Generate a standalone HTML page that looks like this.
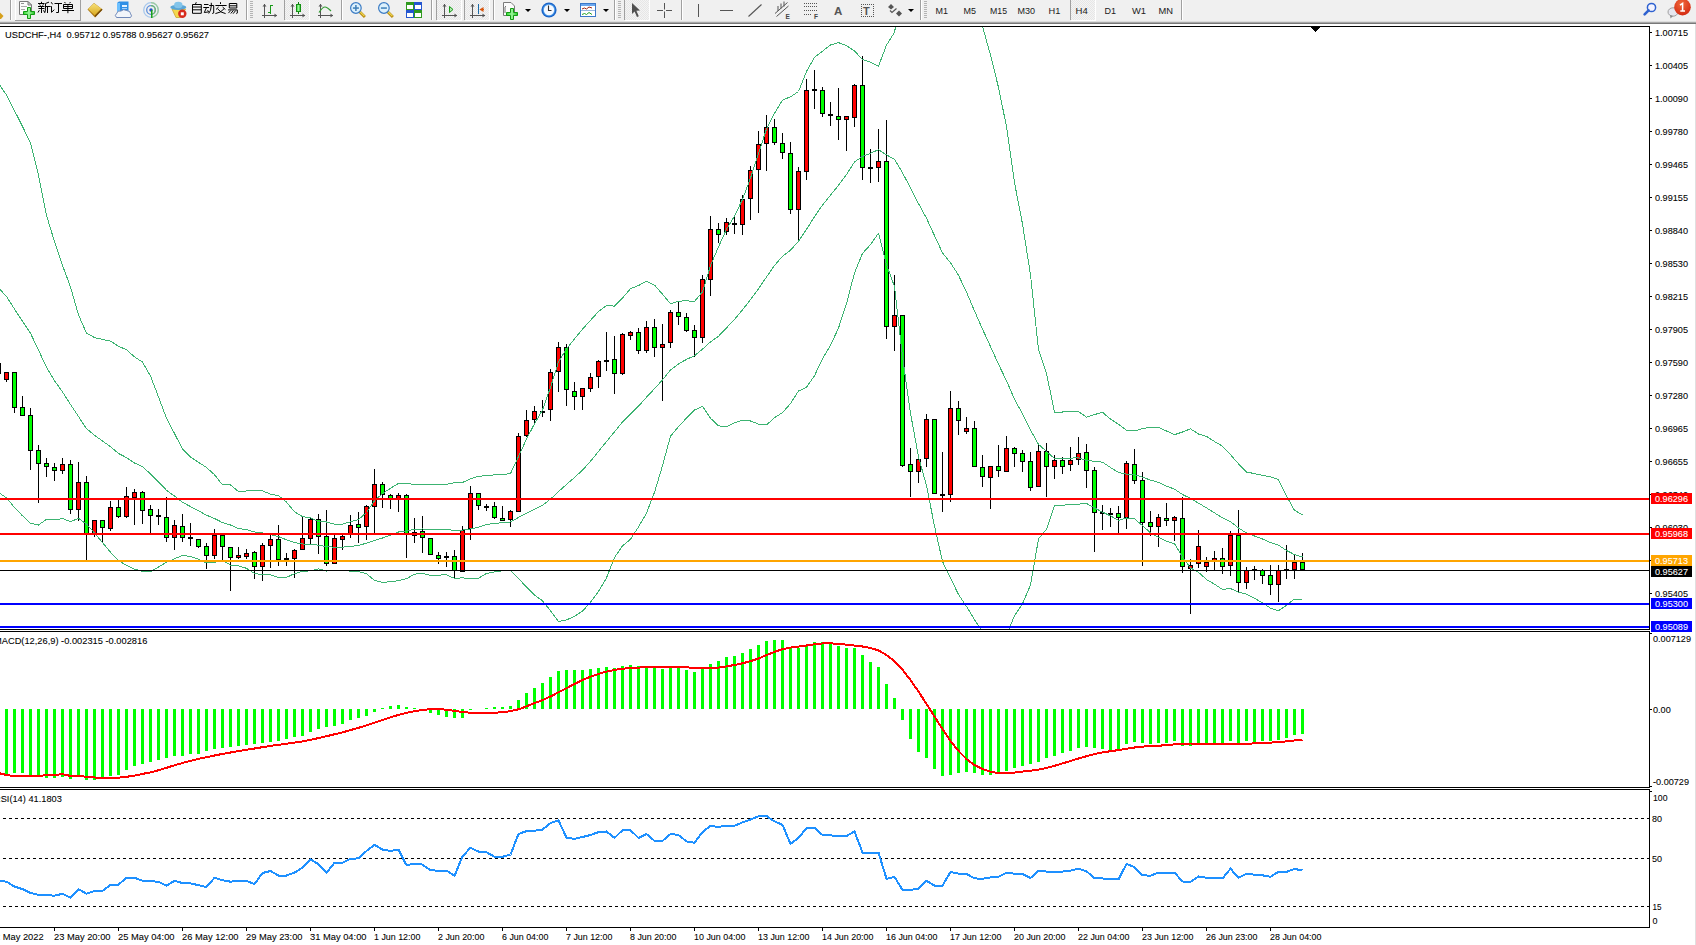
<!DOCTYPE html>
<html><head><meta charset="utf-8"><title>MT4 USDCHF H4</title>
<style>svg text{font-family:"Liberation Sans",sans-serif} html,body{margin:0;padding:0;width:1696px;height:945px;overflow:hidden;background:#fff;position:relative}</style>
</head><body>
<svg width="1696" height="945" viewBox="0 0 1696 945" style="position:absolute;left:0;top:0"><rect x="0" y="0" width="1696" height="945" fill="#ffffff"/><rect x="0" y="0" width="1696" height="21" fill="#f0f0f0"/><rect x="0" y="21" width="1696" height="1" fill="#dedede"/><rect x="0" y="22" width="1696" height="1" fill="#a8a8a8"/><rect x="0" y="23" width="1696" height="1" fill="#787878"/><rect x="1695" y="24" width="1" height="921" fill="#e0e0e0"/><defs><clipPath id="cm"><rect x="0" y="27" width="1649" height="602"/></clipPath><clipPath id="cmacd"><rect x="0" y="632" width="1649" height="155"/></clipPath><clipPath id="crsi"><rect x="0" y="790" width="1649" height="137"/></clipPath></defs><g clip-path="url(#cm)" shape-rendering="crispEdges"><rect x="-2" y="360" width="1" height="17" fill="#000"/><rect x="-4" y="363" width="5" height="11" fill="#000"/><rect x="-3" y="364" width="3" height="9" fill="#00ff00"/><rect x="6" y="372" width="1" height="10" fill="#000"/><rect x="4" y="372" width="5" height="8" fill="#000"/><rect x="5" y="373" width="3" height="6" fill="#ff0000"/><rect x="14" y="372" width="1" height="41" fill="#000"/><rect x="12" y="372" width="5" height="36" fill="#000"/><rect x="13" y="373" width="3" height="34" fill="#00ff00"/><rect x="22" y="396" width="1" height="20" fill="#000"/><rect x="20" y="407" width="5" height="9" fill="#000"/><rect x="21" y="408" width="3" height="7" fill="#00ff00"/><rect x="30" y="408" width="1" height="62" fill="#000"/><rect x="28" y="415" width="5" height="36" fill="#000"/><rect x="29" y="416" width="3" height="34" fill="#00ff00"/><rect x="38" y="445" width="1" height="58" fill="#000"/><rect x="36" y="450" width="5" height="14" fill="#000"/><rect x="37" y="451" width="3" height="12" fill="#00ff00"/><rect x="46" y="458" width="1" height="19" fill="#000"/><rect x="44" y="463" width="5" height="4" fill="#000"/><rect x="45" y="464" width="3" height="2" fill="#00ff00"/><rect x="54" y="463" width="1" height="18" fill="#000"/><rect x="52" y="467" width="5" height="4" fill="#000"/><rect x="53" y="468" width="3" height="2" fill="#00ff00"/><rect x="62" y="458" width="1" height="16" fill="#000"/><rect x="60" y="464" width="5" height="7" fill="#000"/><rect x="61" y="465" width="3" height="5" fill="#ff0000"/><rect x="70" y="460" width="1" height="54" fill="#000"/><rect x="68" y="464" width="5" height="46" fill="#000"/><rect x="69" y="465" width="3" height="44" fill="#00ff00"/><rect x="78" y="462" width="1" height="59" fill="#000"/><rect x="76" y="482" width="5" height="28" fill="#000"/><rect x="77" y="483" width="3" height="26" fill="#ff0000"/><rect x="86" y="476" width="1" height="85" fill="#000"/><rect x="84" y="482" width="5" height="52" fill="#000"/><rect x="85" y="483" width="3" height="50" fill="#00ff00"/><rect x="94" y="520" width="1" height="17" fill="#000"/><rect x="92" y="520" width="5" height="14" fill="#000"/><rect x="93" y="521" width="3" height="12" fill="#ff0000"/><rect x="102" y="520" width="1" height="23" fill="#000"/><rect x="100" y="520" width="5" height="8" fill="#000"/><rect x="101" y="521" width="3" height="6" fill="#00ff00"/><rect x="110" y="501" width="1" height="30" fill="#000"/><rect x="108" y="507" width="5" height="22" fill="#000"/><rect x="109" y="508" width="3" height="20" fill="#ff0000"/><rect x="118" y="500" width="1" height="18" fill="#000"/><rect x="116" y="507" width="5" height="10" fill="#000"/><rect x="117" y="508" width="3" height="8" fill="#00ff00"/><rect x="126" y="487" width="1" height="31" fill="#000"/><rect x="124" y="496" width="5" height="21" fill="#000"/><rect x="125" y="497" width="3" height="19" fill="#ff0000"/><rect x="134" y="489" width="1" height="36" fill="#000"/><rect x="132" y="492" width="5" height="6" fill="#000"/><rect x="133" y="493" width="3" height="4" fill="#ff0000"/><rect x="142" y="491" width="1" height="33" fill="#000"/><rect x="140" y="492" width="5" height="19" fill="#000"/><rect x="141" y="493" width="3" height="17" fill="#00ff00"/><rect x="150" y="505" width="1" height="28" fill="#000"/><rect x="148" y="509" width="5" height="7" fill="#000"/><rect x="149" y="510" width="3" height="5" fill="#00ff00"/><rect x="158" y="509" width="1" height="16" fill="#000"/><rect x="156" y="515" width="5" height="2" fill="#000"/><rect x="166" y="497" width="1" height="45" fill="#000"/><rect x="164" y="517" width="5" height="21" fill="#000"/><rect x="165" y="518" width="3" height="19" fill="#00ff00"/><rect x="174" y="520" width="1" height="30" fill="#000"/><rect x="172" y="525" width="5" height="13" fill="#000"/><rect x="173" y="526" width="3" height="11" fill="#ff0000"/><rect x="182" y="514" width="1" height="28" fill="#000"/><rect x="180" y="526" width="5" height="12" fill="#000"/><rect x="181" y="527" width="3" height="10" fill="#00ff00"/><rect x="190" y="523" width="1" height="23" fill="#000"/><rect x="188" y="537" width="5" height="2" fill="#000"/><rect x="198" y="539" width="1" height="9" fill="#000"/><rect x="196" y="539" width="5" height="8" fill="#000"/><rect x="197" y="540" width="3" height="6" fill="#00ff00"/><rect x="206" y="543" width="1" height="26" fill="#000"/><rect x="204" y="546" width="5" height="10" fill="#000"/><rect x="205" y="547" width="3" height="8" fill="#00ff00"/><rect x="214" y="529" width="1" height="30" fill="#000"/><rect x="212" y="535" width="5" height="21" fill="#000"/><rect x="213" y="536" width="3" height="19" fill="#ff0000"/><rect x="222" y="535" width="1" height="25" fill="#000"/><rect x="220" y="535" width="5" height="12" fill="#000"/><rect x="221" y="536" width="3" height="10" fill="#00ff00"/><rect x="230" y="547" width="1" height="44" fill="#000"/><rect x="228" y="547" width="5" height="11" fill="#000"/><rect x="229" y="548" width="3" height="9" fill="#00ff00"/><rect x="238" y="547" width="1" height="12" fill="#000"/><rect x="236" y="555" width="5" height="3" fill="#000"/><rect x="237" y="556" width="3" height="1" fill="#ff0000"/><rect x="246" y="549" width="1" height="10" fill="#000"/><rect x="244" y="553" width="5" height="4" fill="#000"/><rect x="245" y="554" width="3" height="2" fill="#ff0000"/><rect x="254" y="551" width="1" height="28" fill="#000"/><rect x="252" y="552" width="5" height="15" fill="#000"/><rect x="253" y="553" width="3" height="13" fill="#00ff00"/><rect x="262" y="543" width="1" height="38" fill="#000"/><rect x="260" y="545" width="5" height="22" fill="#000"/><rect x="261" y="546" width="3" height="20" fill="#ff0000"/><rect x="270" y="535" width="1" height="33" fill="#000"/><rect x="268" y="539" width="5" height="7" fill="#000"/><rect x="269" y="540" width="3" height="5" fill="#ff0000"/><rect x="278" y="525" width="1" height="41" fill="#000"/><rect x="276" y="539" width="5" height="21" fill="#000"/><rect x="277" y="540" width="3" height="19" fill="#00ff00"/><rect x="286" y="553" width="1" height="13" fill="#000"/><rect x="284" y="558" width="5" height="2" fill="#000"/><rect x="294" y="549" width="1" height="29" fill="#000"/><rect x="292" y="550" width="5" height="9" fill="#000"/><rect x="293" y="551" width="3" height="7" fill="#ff0000"/><rect x="302" y="517" width="1" height="33" fill="#000"/><rect x="300" y="538" width="5" height="12" fill="#000"/><rect x="301" y="539" width="3" height="10" fill="#ff0000"/><rect x="310" y="518" width="1" height="26" fill="#000"/><rect x="308" y="519" width="5" height="20" fill="#000"/><rect x="309" y="520" width="3" height="18" fill="#ff0000"/><rect x="318" y="514" width="1" height="40" fill="#000"/><rect x="316" y="519" width="5" height="18" fill="#000"/><rect x="317" y="520" width="3" height="16" fill="#00ff00"/><rect x="326" y="510" width="1" height="56" fill="#000"/><rect x="324" y="536" width="5" height="28" fill="#000"/><rect x="325" y="537" width="3" height="26" fill="#00ff00"/><rect x="334" y="535" width="1" height="29" fill="#000"/><rect x="332" y="538" width="5" height="26" fill="#000"/><rect x="333" y="539" width="3" height="24" fill="#ff0000"/><rect x="342" y="535" width="1" height="15" fill="#000"/><rect x="340" y="536" width="5" height="4" fill="#000"/><rect x="341" y="537" width="3" height="2" fill="#ff0000"/><rect x="350" y="515" width="1" height="23" fill="#000"/><rect x="348" y="525" width="5" height="10" fill="#000"/><rect x="349" y="526" width="3" height="8" fill="#ff0000"/><rect x="358" y="512" width="1" height="31" fill="#000"/><rect x="356" y="524" width="5" height="4" fill="#000"/><rect x="357" y="525" width="3" height="2" fill="#00ff00"/><rect x="366" y="505" width="1" height="35" fill="#000"/><rect x="364" y="506" width="5" height="21" fill="#000"/><rect x="365" y="507" width="3" height="19" fill="#ff0000"/><rect x="374" y="469" width="1" height="66" fill="#000"/><rect x="372" y="484" width="5" height="23" fill="#000"/><rect x="373" y="485" width="3" height="21" fill="#ff0000"/><rect x="382" y="482" width="1" height="26" fill="#000"/><rect x="380" y="484" width="5" height="11" fill="#000"/><rect x="381" y="485" width="3" height="9" fill="#00ff00"/><rect x="390" y="494" width="1" height="15" fill="#000"/><rect x="388" y="495" width="5" height="4" fill="#000"/><rect x="389" y="496" width="3" height="2" fill="#00ff00"/><rect x="398" y="493" width="1" height="19" fill="#000"/><rect x="396" y="495" width="5" height="4" fill="#000"/><rect x="397" y="496" width="3" height="2" fill="#ff0000"/><rect x="406" y="494" width="1" height="64" fill="#000"/><rect x="404" y="495" width="5" height="40" fill="#000"/><rect x="405" y="496" width="3" height="38" fill="#00ff00"/><rect x="414" y="518" width="1" height="25" fill="#000"/><rect x="412" y="532" width="5" height="4" fill="#000"/><rect x="413" y="533" width="3" height="2" fill="#ff0000"/><rect x="422" y="516" width="1" height="37" fill="#000"/><rect x="420" y="531" width="5" height="7" fill="#000"/><rect x="421" y="532" width="3" height="5" fill="#00ff00"/><rect x="430" y="538" width="1" height="17" fill="#000"/><rect x="428" y="538" width="5" height="17" fill="#000"/><rect x="429" y="539" width="3" height="15" fill="#00ff00"/><rect x="438" y="552" width="1" height="12" fill="#000"/><rect x="436" y="555" width="5" height="4" fill="#000"/><rect x="437" y="556" width="3" height="2" fill="#00ff00"/><rect x="446" y="552" width="1" height="15" fill="#000"/><rect x="444" y="556" width="5" height="2" fill="#000"/><rect x="454" y="550" width="1" height="28" fill="#000"/><rect x="452" y="556" width="5" height="15" fill="#000"/><rect x="453" y="557" width="3" height="13" fill="#00ff00"/><rect x="462" y="526" width="1" height="46" fill="#000"/><rect x="460" y="530" width="5" height="42" fill="#000"/><rect x="461" y="531" width="3" height="40" fill="#ff0000"/><rect x="470" y="486" width="1" height="54" fill="#000"/><rect x="468" y="493" width="5" height="36" fill="#000"/><rect x="469" y="494" width="3" height="34" fill="#ff0000"/><rect x="478" y="493" width="1" height="17" fill="#000"/><rect x="476" y="493" width="5" height="13" fill="#000"/><rect x="477" y="494" width="3" height="11" fill="#00ff00"/><rect x="486" y="504" width="1" height="7" fill="#000"/><rect x="484" y="506" width="5" height="2" fill="#000"/><rect x="494" y="502" width="1" height="17" fill="#000"/><rect x="492" y="506" width="5" height="12" fill="#000"/><rect x="493" y="507" width="3" height="10" fill="#00ff00"/><rect x="502" y="506" width="1" height="15" fill="#000"/><rect x="500" y="518" width="5" height="3" fill="#000"/><rect x="501" y="519" width="3" height="1" fill="#00ff00"/><rect x="510" y="510" width="1" height="17" fill="#000"/><rect x="508" y="511" width="5" height="9" fill="#000"/><rect x="509" y="512" width="3" height="7" fill="#ff0000"/><rect x="518" y="433" width="1" height="79" fill="#000"/><rect x="516" y="436" width="5" height="76" fill="#000"/><rect x="517" y="437" width="3" height="74" fill="#ff0000"/><rect x="526" y="410" width="1" height="27" fill="#000"/><rect x="524" y="420" width="5" height="16" fill="#000"/><rect x="525" y="421" width="3" height="14" fill="#ff0000"/><rect x="534" y="406" width="1" height="18" fill="#000"/><rect x="532" y="411" width="5" height="9" fill="#000"/><rect x="533" y="412" width="3" height="7" fill="#ff0000"/><rect x="542" y="400" width="1" height="17" fill="#000"/><rect x="540" y="411" width="5" height="2" fill="#000"/><rect x="550" y="369" width="1" height="52" fill="#000"/><rect x="548" y="372" width="5" height="38" fill="#000"/><rect x="549" y="373" width="3" height="36" fill="#ff0000"/><rect x="558" y="342" width="1" height="50" fill="#000"/><rect x="556" y="347" width="5" height="25" fill="#000"/><rect x="557" y="348" width="3" height="23" fill="#ff0000"/><rect x="566" y="344" width="1" height="62" fill="#000"/><rect x="564" y="347" width="5" height="43" fill="#000"/><rect x="565" y="348" width="3" height="41" fill="#00ff00"/><rect x="574" y="382" width="1" height="28" fill="#000"/><rect x="572" y="391" width="5" height="6" fill="#000"/><rect x="573" y="392" width="3" height="4" fill="#00ff00"/><rect x="582" y="388" width="1" height="22" fill="#000"/><rect x="580" y="388" width="5" height="9" fill="#000"/><rect x="581" y="389" width="3" height="7" fill="#ff0000"/><rect x="590" y="373" width="1" height="19" fill="#000"/><rect x="588" y="377" width="5" height="12" fill="#000"/><rect x="589" y="378" width="3" height="10" fill="#ff0000"/><rect x="598" y="360" width="1" height="28" fill="#000"/><rect x="596" y="361" width="5" height="16" fill="#000"/><rect x="597" y="362" width="3" height="14" fill="#ff0000"/><rect x="606" y="332" width="1" height="39" fill="#000"/><rect x="604" y="360" width="5" height="2" fill="#000"/><rect x="614" y="336" width="1" height="58" fill="#000"/><rect x="612" y="359" width="5" height="15" fill="#000"/><rect x="613" y="360" width="3" height="13" fill="#00ff00"/><rect x="622" y="333" width="1" height="42" fill="#000"/><rect x="620" y="334" width="5" height="40" fill="#000"/><rect x="621" y="335" width="3" height="38" fill="#ff0000"/><rect x="630" y="331" width="1" height="9" fill="#000"/><rect x="628" y="332" width="5" height="4" fill="#000"/><rect x="629" y="333" width="3" height="2" fill="#ff0000"/><rect x="638" y="328" width="1" height="26" fill="#000"/><rect x="636" y="332" width="5" height="19" fill="#000"/><rect x="637" y="333" width="3" height="17" fill="#00ff00"/><rect x="646" y="321" width="1" height="32" fill="#000"/><rect x="644" y="327" width="5" height="24" fill="#000"/><rect x="645" y="328" width="3" height="22" fill="#ff0000"/><rect x="654" y="319" width="1" height="38" fill="#000"/><rect x="652" y="327" width="5" height="21" fill="#000"/><rect x="653" y="328" width="3" height="19" fill="#00ff00"/><rect x="662" y="324" width="1" height="77" fill="#000"/><rect x="660" y="344" width="5" height="4" fill="#000"/><rect x="661" y="345" width="3" height="2" fill="#ff0000"/><rect x="670" y="310" width="1" height="38" fill="#000"/><rect x="668" y="312" width="5" height="31" fill="#000"/><rect x="669" y="313" width="3" height="29" fill="#ff0000"/><rect x="678" y="302" width="1" height="23" fill="#000"/><rect x="676" y="312" width="5" height="5" fill="#000"/><rect x="677" y="313" width="3" height="3" fill="#00ff00"/><rect x="686" y="313" width="1" height="19" fill="#000"/><rect x="684" y="317" width="5" height="14" fill="#000"/><rect x="685" y="318" width="3" height="12" fill="#00ff00"/><rect x="694" y="325" width="1" height="32" fill="#000"/><rect x="692" y="330" width="5" height="8" fill="#000"/><rect x="693" y="331" width="3" height="6" fill="#00ff00"/><rect x="702" y="275" width="1" height="68" fill="#000"/><rect x="700" y="279" width="5" height="59" fill="#000"/><rect x="701" y="280" width="3" height="57" fill="#ff0000"/><rect x="710" y="216" width="1" height="80" fill="#000"/><rect x="708" y="229" width="5" height="51" fill="#000"/><rect x="709" y="230" width="3" height="49" fill="#ff0000"/><rect x="718" y="223" width="1" height="20" fill="#000"/><rect x="716" y="229" width="5" height="6" fill="#000"/><rect x="717" y="230" width="3" height="4" fill="#00ff00"/><rect x="726" y="218" width="1" height="17" fill="#000"/><rect x="724" y="222" width="5" height="10" fill="#000"/><rect x="725" y="223" width="3" height="8" fill="#ff0000"/><rect x="734" y="217" width="1" height="17" fill="#000"/><rect x="732" y="223" width="5" height="2" fill="#000"/><rect x="742" y="195" width="1" height="40" fill="#000"/><rect x="740" y="199" width="5" height="26" fill="#000"/><rect x="741" y="200" width="3" height="24" fill="#ff0000"/><rect x="750" y="166" width="1" height="54" fill="#000"/><rect x="748" y="170" width="5" height="29" fill="#000"/><rect x="749" y="171" width="3" height="27" fill="#ff0000"/><rect x="758" y="131" width="1" height="82" fill="#000"/><rect x="756" y="144" width="5" height="26" fill="#000"/><rect x="757" y="145" width="3" height="24" fill="#ff0000"/><rect x="766" y="115" width="1" height="56" fill="#000"/><rect x="764" y="127" width="5" height="17" fill="#000"/><rect x="765" y="128" width="3" height="15" fill="#ff0000"/><rect x="774" y="119" width="1" height="26" fill="#000"/><rect x="772" y="127" width="5" height="16" fill="#000"/><rect x="773" y="128" width="3" height="14" fill="#00ff00"/><rect x="782" y="133" width="1" height="26" fill="#000"/><rect x="780" y="143" width="5" height="10" fill="#000"/><rect x="781" y="144" width="3" height="8" fill="#00ff00"/><rect x="790" y="142" width="1" height="72" fill="#000"/><rect x="788" y="153" width="5" height="57" fill="#000"/><rect x="789" y="154" width="3" height="55" fill="#00ff00"/><rect x="798" y="167" width="1" height="75" fill="#000"/><rect x="796" y="171" width="5" height="39" fill="#000"/><rect x="797" y="172" width="3" height="37" fill="#ff0000"/><rect x="806" y="79" width="1" height="101" fill="#000"/><rect x="804" y="90" width="5" height="82" fill="#000"/><rect x="805" y="91" width="3" height="80" fill="#ff0000"/><rect x="814" y="70" width="1" height="39" fill="#000"/><rect x="812" y="89" width="5" height="2" fill="#000"/><rect x="822" y="87" width="1" height="30" fill="#000"/><rect x="820" y="90" width="5" height="24" fill="#000"/><rect x="821" y="91" width="3" height="22" fill="#00ff00"/><rect x="830" y="102" width="1" height="24" fill="#000"/><rect x="828" y="114" width="5" height="2" fill="#000"/><rect x="838" y="88" width="1" height="52" fill="#000"/><rect x="836" y="116" width="5" height="4" fill="#000"/><rect x="837" y="117" width="3" height="2" fill="#00ff00"/><rect x="846" y="116" width="1" height="35" fill="#000"/><rect x="844" y="116" width="5" height="4" fill="#000"/><rect x="845" y="117" width="3" height="2" fill="#ff0000"/><rect x="854" y="84" width="1" height="43" fill="#000"/><rect x="852" y="85" width="5" height="33" fill="#000"/><rect x="853" y="86" width="3" height="31" fill="#ff0000"/><rect x="862" y="56" width="1" height="124" fill="#000"/><rect x="860" y="85" width="5" height="83" fill="#000"/><rect x="861" y="86" width="3" height="81" fill="#00ff00"/><rect x="870" y="149" width="1" height="34" fill="#000"/><rect x="868" y="167" width="5" height="2" fill="#000"/><rect x="878" y="129" width="1" height="53" fill="#000"/><rect x="876" y="161" width="5" height="7" fill="#000"/><rect x="877" y="162" width="3" height="5" fill="#ff0000"/><rect x="886" y="120" width="1" height="219" fill="#000"/><rect x="884" y="161" width="5" height="166" fill="#000"/><rect x="885" y="162" width="3" height="164" fill="#00ff00"/><rect x="894" y="275" width="1" height="76" fill="#000"/><rect x="892" y="315" width="5" height="12" fill="#000"/><rect x="893" y="316" width="3" height="10" fill="#ff0000"/><rect x="902" y="315" width="1" height="152" fill="#000"/><rect x="900" y="315" width="5" height="151" fill="#000"/><rect x="901" y="316" width="3" height="149" fill="#00ff00"/><rect x="910" y="448" width="1" height="49" fill="#000"/><rect x="908" y="464" width="5" height="8" fill="#000"/><rect x="909" y="465" width="3" height="6" fill="#00ff00"/><rect x="918" y="454" width="1" height="29" fill="#000"/><rect x="916" y="459" width="5" height="13" fill="#000"/><rect x="917" y="460" width="3" height="11" fill="#ff0000"/><rect x="926" y="414" width="1" height="53" fill="#000"/><rect x="924" y="419" width="5" height="40" fill="#000"/><rect x="925" y="420" width="3" height="38" fill="#ff0000"/><rect x="934" y="419" width="1" height="75" fill="#000"/><rect x="932" y="419" width="5" height="75" fill="#000"/><rect x="933" y="420" width="3" height="73" fill="#00ff00"/><rect x="942" y="452" width="1" height="60" fill="#000"/><rect x="940" y="494" width="5" height="2" fill="#000"/><rect x="950" y="391" width="1" height="111" fill="#000"/><rect x="948" y="408" width="5" height="87" fill="#000"/><rect x="949" y="409" width="3" height="85" fill="#ff0000"/><rect x="958" y="401" width="1" height="34" fill="#000"/><rect x="956" y="408" width="5" height="13" fill="#000"/><rect x="957" y="409" width="3" height="11" fill="#00ff00"/><rect x="966" y="417" width="1" height="17" fill="#000"/><rect x="964" y="428" width="5" height="4" fill="#000"/><rect x="965" y="429" width="3" height="2" fill="#ff0000"/><rect x="974" y="421" width="1" height="46" fill="#000"/><rect x="972" y="428" width="5" height="39" fill="#000"/><rect x="973" y="429" width="3" height="37" fill="#00ff00"/><rect x="982" y="455" width="1" height="32" fill="#000"/><rect x="980" y="467" width="5" height="10" fill="#000"/><rect x="981" y="468" width="3" height="8" fill="#00ff00"/><rect x="990" y="466" width="1" height="43" fill="#000"/><rect x="988" y="466" width="5" height="12" fill="#000"/><rect x="989" y="467" width="3" height="10" fill="#ff0000"/><rect x="998" y="445" width="1" height="32" fill="#000"/><rect x="996" y="466" width="5" height="5" fill="#000"/><rect x="997" y="467" width="3" height="3" fill="#00ff00"/><rect x="1006" y="436" width="1" height="36" fill="#000"/><rect x="1004" y="448" width="5" height="24" fill="#000"/><rect x="1005" y="449" width="3" height="22" fill="#ff0000"/><rect x="1014" y="447" width="1" height="20" fill="#000"/><rect x="1012" y="448" width="5" height="6" fill="#000"/><rect x="1013" y="449" width="3" height="4" fill="#00ff00"/><rect x="1022" y="450" width="1" height="22" fill="#000"/><rect x="1020" y="453" width="5" height="9" fill="#000"/><rect x="1021" y="454" width="3" height="7" fill="#00ff00"/><rect x="1030" y="452" width="1" height="39" fill="#000"/><rect x="1028" y="461" width="5" height="27" fill="#000"/><rect x="1029" y="462" width="3" height="25" fill="#00ff00"/><rect x="1038" y="445" width="1" height="42" fill="#000"/><rect x="1036" y="451" width="5" height="36" fill="#000"/><rect x="1037" y="452" width="3" height="34" fill="#ff0000"/><rect x="1046" y="443" width="1" height="54" fill="#000"/><rect x="1044" y="451" width="5" height="16" fill="#000"/><rect x="1045" y="452" width="3" height="14" fill="#00ff00"/><rect x="1054" y="455" width="1" height="24" fill="#000"/><rect x="1052" y="460" width="5" height="7" fill="#000"/><rect x="1053" y="461" width="3" height="5" fill="#ff0000"/><rect x="1062" y="457" width="1" height="17" fill="#000"/><rect x="1060" y="460" width="5" height="7" fill="#000"/><rect x="1061" y="461" width="3" height="5" fill="#00ff00"/><rect x="1070" y="447" width="1" height="24" fill="#000"/><rect x="1068" y="460" width="5" height="5" fill="#000"/><rect x="1069" y="461" width="3" height="3" fill="#ff0000"/><rect x="1078" y="437" width="1" height="28" fill="#000"/><rect x="1076" y="453" width="5" height="7" fill="#000"/><rect x="1077" y="454" width="3" height="5" fill="#ff0000"/><rect x="1086" y="444" width="1" height="44" fill="#000"/><rect x="1084" y="452" width="5" height="19" fill="#000"/><rect x="1085" y="453" width="3" height="17" fill="#00ff00"/><rect x="1094" y="467" width="1" height="85" fill="#000"/><rect x="1092" y="470" width="5" height="43" fill="#000"/><rect x="1093" y="471" width="3" height="41" fill="#00ff00"/><rect x="1102" y="505" width="1" height="25" fill="#000"/><rect x="1100" y="512" width="5" height="2" fill="#000"/><rect x="1110" y="508" width="1" height="19" fill="#000"/><rect x="1108" y="513" width="5" height="2" fill="#000"/><rect x="1118" y="506" width="1" height="27" fill="#000"/><rect x="1116" y="513" width="5" height="5" fill="#000"/><rect x="1117" y="514" width="3" height="3" fill="#00ff00"/><rect x="1126" y="461" width="1" height="68" fill="#000"/><rect x="1124" y="463" width="5" height="55" fill="#000"/><rect x="1125" y="464" width="3" height="53" fill="#ff0000"/><rect x="1134" y="449" width="1" height="35" fill="#000"/><rect x="1132" y="464" width="5" height="17" fill="#000"/><rect x="1133" y="465" width="3" height="15" fill="#00ff00"/><rect x="1142" y="472" width="1" height="94" fill="#000"/><rect x="1140" y="480" width="5" height="43" fill="#000"/><rect x="1141" y="481" width="3" height="41" fill="#00ff00"/><rect x="1150" y="511" width="1" height="25" fill="#000"/><rect x="1148" y="522" width="5" height="5" fill="#000"/><rect x="1149" y="523" width="3" height="3" fill="#00ff00"/><rect x="1158" y="514" width="1" height="33" fill="#000"/><rect x="1156" y="517" width="5" height="10" fill="#000"/><rect x="1157" y="518" width="3" height="8" fill="#ff0000"/><rect x="1166" y="503" width="1" height="23" fill="#000"/><rect x="1164" y="518" width="5" height="3" fill="#000"/><rect x="1165" y="519" width="3" height="1" fill="#00ff00"/><rect x="1174" y="516" width="1" height="25" fill="#000"/><rect x="1172" y="517" width="5" height="4" fill="#000"/><rect x="1173" y="518" width="3" height="2" fill="#ff0000"/><rect x="1182" y="497" width="1" height="76" fill="#000"/><rect x="1180" y="518" width="5" height="49" fill="#000"/><rect x="1181" y="519" width="3" height="47" fill="#00ff00"/><rect x="1190" y="559" width="1" height="55" fill="#000"/><rect x="1188" y="565" width="5" height="4" fill="#000"/><rect x="1189" y="566" width="3" height="2" fill="#ff0000"/><rect x="1198" y="530" width="1" height="38" fill="#000"/><rect x="1196" y="546" width="5" height="18" fill="#000"/><rect x="1197" y="547" width="3" height="16" fill="#ff0000"/><rect x="1206" y="557" width="1" height="15" fill="#000"/><rect x="1204" y="562" width="5" height="5" fill="#000"/><rect x="1205" y="563" width="3" height="3" fill="#ff0000"/><rect x="1214" y="551" width="1" height="19" fill="#000"/><rect x="1212" y="558" width="5" height="4" fill="#000"/><rect x="1213" y="559" width="3" height="2" fill="#ff0000"/><rect x="1222" y="548" width="1" height="26" fill="#000"/><rect x="1220" y="558" width="5" height="9" fill="#000"/><rect x="1221" y="559" width="3" height="7" fill="#00ff00"/><rect x="1230" y="531" width="1" height="45" fill="#000"/><rect x="1228" y="535" width="5" height="31" fill="#000"/><rect x="1229" y="536" width="3" height="29" fill="#ff0000"/><rect x="1238" y="510" width="1" height="82" fill="#000"/><rect x="1236" y="535" width="5" height="48" fill="#000"/><rect x="1237" y="536" width="3" height="46" fill="#00ff00"/><rect x="1246" y="567" width="1" height="22" fill="#000"/><rect x="1244" y="570" width="5" height="13" fill="#000"/><rect x="1245" y="571" width="3" height="11" fill="#ff0000"/><rect x="1254" y="566" width="1" height="14" fill="#000"/><rect x="1252" y="569" width="5" height="2" fill="#000"/><rect x="1262" y="569" width="1" height="15" fill="#000"/><rect x="1260" y="570" width="5" height="6" fill="#000"/><rect x="1261" y="571" width="3" height="4" fill="#00ff00"/><rect x="1270" y="565" width="1" height="30" fill="#000"/><rect x="1268" y="575" width="5" height="10" fill="#000"/><rect x="1269" y="576" width="3" height="8" fill="#00ff00"/><rect x="1278" y="565" width="1" height="37" fill="#000"/><rect x="1276" y="570" width="5" height="15" fill="#000"/><rect x="1277" y="571" width="3" height="13" fill="#ff0000"/><rect x="1286" y="545" width="1" height="34" fill="#000"/><rect x="1284" y="569" width="5" height="2" fill="#000"/><rect x="1294" y="555" width="1" height="24" fill="#000"/><rect x="1292" y="562" width="5" height="8" fill="#000"/><rect x="1293" y="563" width="3" height="6" fill="#ff0000"/><rect x="1302" y="553" width="1" height="17" fill="#000"/><rect x="1300" y="562" width="5" height="8" fill="#000"/><rect x="1301" y="563" width="3" height="6" fill="#00ff00"/><polyline points="-1.5,83.5 6.5,94.9 14.5,110.7 22.5,126.4 30.5,143.1 38.5,175.2 46.5,215.4 54.5,241.6 62.5,265.3 70.5,287.0 78.5,314.9 86.5,333.1 94.5,337.6 102.5,339.4 110.5,341.1 118.5,346.3 126.5,349.8 134.5,356.8 142.5,362.1 150.5,376.0 158.5,396.9 166.5,418.2 174.5,433.5 182.5,449.1 190.5,456.9 198.5,462.3 206.5,467.5 214.5,474.7 222.5,484.9 230.5,484.9 238.5,491.5 246.5,491.0 254.5,490.4 262.5,490.9 270.5,494.1 278.5,495.7 286.5,502.1 294.5,511.7 302.5,516.7 310.5,517.7 318.5,521.6 326.5,522.0 334.5,524.2 342.5,524.1 350.5,521.8 358.5,519.5 366.5,512.5 374.5,500.7 382.5,493.5 390.5,488.3 398.5,483.3 406.5,483.4 414.5,484.5 422.5,484.5 430.5,484.1 438.5,484.2 446.5,484.3 454.5,482.7 462.5,482.5 470.5,478.7 478.5,476.3 486.5,475.6 494.5,474.9 502.5,474.5 510.5,473.6 518.5,456.5 526.5,439.0 534.5,423.8 542.5,409.9 550.5,387.4 558.5,361.9 566.5,348.9 574.5,338.9 582.5,329.1 590.5,320.3 598.5,311.5 606.5,305.4 614.5,306.1 622.5,298.1 630.5,288.7 638.5,285.5 646.5,281.3 654.5,285.1 662.5,294.2 670.5,303.7 678.5,301.2 686.5,300.8 694.5,301.5 702.5,291.8 710.5,265.6 718.5,246.8 726.5,229.2 734.5,216.1 742.5,199.4 750.5,178.1 758.5,153.3 766.5,129.0 774.5,113.3 782.5,100.1 790.5,96.8 798.5,91.5 806.5,71.5 814.5,57.4 822.5,51.2 830.5,44.9 838.5,42.6 846.5,45.6 854.5,51.1 862.5,59.4 870.5,62.1 878.5,66.2 886.5,45.1 894.5,32.3 902.5,-11.3 910.5,-37.6 918.5,-49.8 926.5,-49.3 934.5,-54.7 942.5,-55.8 950.5,-52.4 958.5,-44.1 966.5,-22.1 974.5,2.3 982.5,26.4 990.5,55.0 998.5,87.5 1006.5,126.6 1014.5,182.7 1022.5,224.0 1030.5,274.7 1038.5,349.8 1046.5,373.5 1054.5,412.0 1062.5,412.0 1070.5,411.8 1078.5,411.5 1086.5,417.2 1094.5,414.6 1102.5,412.3 1110.5,419.1 1118.5,424.3 1126.5,430.2 1134.5,430.9 1142.5,428.6 1150.5,427.3 1158.5,427.5 1166.5,431.0 1174.5,434.7 1182.5,432.0 1190.5,428.8 1198.5,434.0 1206.5,436.4 1214.5,441.5 1222.5,446.2 1230.5,454.7 1238.5,463.8 1246.5,472.0 1254.5,473.6 1262.5,475.3 1270.5,476.9 1278.5,479.6 1286.5,495.9 1294.5,510.3 1302.5,514.8" fill="none" stroke="#3cb371" stroke-width="1" stroke-linejoin="round"/><polyline points="-1.5,288.0 6.5,296.4 14.5,309.1 22.5,321.1 30.5,333.2 38.5,350.1 46.5,367.3 54.5,380.7 62.5,391.9 70.5,404.4 78.5,416.6 86.5,428.6 94.5,435.3 102.5,441.0 110.5,446.7 118.5,453.5 126.5,457.6 134.5,463.0 142.5,466.8 150.5,473.9 158.5,482.0 166.5,490.2 174.5,496.1 182.5,502.2 190.5,506.6 198.5,510.8 206.5,515.2 214.5,518.5 222.5,522.6 230.5,525.0 238.5,528.6 246.5,529.6 254.5,532.0 262.5,532.9 270.5,534.5 278.5,536.6 286.5,539.8 294.5,542.6 302.5,544.0 310.5,544.2 318.5,545.2 326.5,546.5 334.5,547.2 342.5,547.1 350.5,546.5 358.5,545.5 366.5,543.1 374.5,540.5 382.5,538.0 390.5,535.0 398.5,532.0 406.5,531.0 414.5,529.4 422.5,529.0 430.5,529.7 438.5,529.6 446.5,529.5 454.5,530.5 462.5,530.1 470.5,528.9 478.5,527.3 486.5,524.5 494.5,523.5 502.5,522.6 510.5,522.0 518.5,517.4 526.5,513.1 534.5,509.4 542.5,505.4 550.5,499.1 558.5,491.6 566.5,484.4 574.5,477.6 582.5,470.1 590.5,461.3 598.5,451.4 606.5,441.6 614.5,431.8 622.5,422.0 630.5,413.9 638.5,406.2 646.5,397.2 654.5,388.7 662.5,379.9 670.5,369.9 678.5,363.9 686.5,359.4 694.5,355.8 702.5,349.1 710.5,341.9 718.5,336.3 726.5,327.9 734.5,319.4 742.5,309.9 750.5,299.6 758.5,288.7 766.5,277.0 774.5,265.4 782.5,256.4 790.5,250.2 798.5,241.2 806.5,229.4 814.5,216.6 822.5,205.0 830.5,195.2 838.5,185.3 846.5,174.6 854.5,162.0 862.5,156.4 870.5,153.3 878.5,149.7 886.5,154.9 894.5,159.4 902.5,172.8 910.5,187.8 918.5,203.6 926.5,218.2 934.5,235.7 942.5,252.8 950.5,262.8 958.5,275.2 966.5,292.1 974.5,310.9 982.5,329.1 990.5,346.6 998.5,364.2 1006.5,380.8 1014.5,399.2 1022.5,413.9 1030.5,429.9 1038.5,444.4 1046.5,451.4 1054.5,458.6 1062.5,458.6 1070.5,458.1 1078.5,457.8 1086.5,460.4 1094.5,461.3 1102.5,462.2 1110.5,467.5 1118.5,472.4 1126.5,474.1 1134.5,474.8 1142.5,477.1 1150.5,480.1 1158.5,482.4 1166.5,486.1 1174.5,489.2 1182.5,494.5 1190.5,498.4 1198.5,503.1 1206.5,507.9 1214.5,512.9 1222.5,517.9 1230.5,521.6 1238.5,528.0 1246.5,533.0 1254.5,536.0 1262.5,539.0 1270.5,542.5 1278.5,545.2 1286.5,550.5 1294.5,554.6 1302.5,557.0" fill="none" stroke="#3cb371" stroke-width="1" stroke-linejoin="round"/><polyline points="-1.5,492.5 6.5,497.8 14.5,507.5 22.5,515.8 30.5,523.3 38.5,525.1 46.5,519.2 54.5,519.9 62.5,518.5 70.5,521.7 78.5,518.3 86.5,524.1 94.5,532.9 102.5,542.6 110.5,552.2 118.5,560.6 126.5,565.4 134.5,569.2 142.5,571.4 150.5,571.8 158.5,567.1 166.5,562.3 174.5,558.8 182.5,555.4 190.5,556.4 198.5,559.3 206.5,563.0 214.5,562.3 222.5,560.3 230.5,565.1 238.5,565.8 246.5,568.3 254.5,573.5 262.5,574.8 270.5,574.8 278.5,577.5 286.5,577.4 294.5,573.6 302.5,571.4 310.5,570.8 318.5,568.9 326.5,571.1 334.5,570.2 342.5,570.2 350.5,571.2 358.5,571.6 366.5,573.7 374.5,580.4 382.5,582.4 390.5,581.7 398.5,580.7 406.5,578.7 414.5,574.2 422.5,573.4 430.5,575.3 438.5,575.1 446.5,574.8 454.5,578.4 462.5,577.8 470.5,579.0 478.5,578.3 486.5,573.4 494.5,572.0 502.5,570.8 510.5,570.3 518.5,578.3 526.5,587.2 534.5,595.1 542.5,600.8 550.5,610.7 558.5,621.4 566.5,619.9 574.5,616.3 582.5,611.2 590.5,602.3 598.5,591.4 606.5,577.9 614.5,557.5 622.5,545.9 630.5,539.2 638.5,526.9 646.5,513.1 654.5,492.3 662.5,465.6 670.5,436.2 678.5,426.7 686.5,418.1 694.5,410.0 702.5,406.4 710.5,418.3 718.5,425.8 726.5,426.7 734.5,422.6 742.5,420.4 750.5,421.0 758.5,424.1 766.5,425.0 774.5,417.6 782.5,412.6 790.5,403.6 798.5,391.0 806.5,387.3 814.5,375.7 822.5,358.8 830.5,345.4 838.5,328.0 846.5,303.6 854.5,272.9 862.5,253.4 870.5,244.6 878.5,233.2 886.5,264.7 894.5,286.6 902.5,356.8 910.5,413.2 918.5,456.9 926.5,485.6 934.5,526.1 942.5,561.5 950.5,578.0 958.5,594.6 966.5,606.4 974.5,619.6 982.5,631.8 990.5,638.3 998.5,640.9 1006.5,635.0 1014.5,615.7 1022.5,603.8 1030.5,585.0 1038.5,538.9 1046.5,529.2 1054.5,505.2 1062.5,505.3 1070.5,504.4 1078.5,504.1 1086.5,503.5 1094.5,508.0 1102.5,512.1 1110.5,515.9 1118.5,520.4 1126.5,518.0 1134.5,518.7 1142.5,525.6 1150.5,532.9 1158.5,537.4 1166.5,541.1 1174.5,543.8 1182.5,557.0 1190.5,568.0 1198.5,572.3 1206.5,579.5 1214.5,584.2 1222.5,589.5 1230.5,588.5 1238.5,592.3 1246.5,594.1 1254.5,598.3 1262.5,602.8 1270.5,608.2 1278.5,610.8 1286.5,605.2 1294.5,599.0 1302.5,599.2" fill="none" stroke="#3cb371" stroke-width="1" stroke-linejoin="round"/><rect x="0" y="498" width="1649" height="2" fill="#ff0000"/><rect x="0" y="533" width="1649" height="2" fill="#ff0000"/><rect x="0" y="560" width="1649" height="2" fill="#ffa500"/><rect x="0" y="570" width="1649" height="1" fill="#000000"/><rect x="0" y="603" width="1649" height="2" fill="#0000ff"/><rect x="0" y="626" width="1649" height="2" fill="#0000ff"/><polygon points="1310.5,27 1320.5,27 1315.5,32" fill="#000"/></g><text x="5" y="38" font-size="9.7" fill="#000" stroke="#000" stroke-width="0.08" text-anchor="start" font-weight="normal" textLength="204" lengthAdjust="spacingAndGlyphs" xml:space="preserve">USDCHF-,H4  0.95712 0.95788 0.95627 0.95627</text><rect x="0" y="26" width="1650" height="1" fill="#000"/><rect x="1649" y="26" width="1" height="604" fill="#000"/><rect x="1649" y="631" width="1" height="157" fill="#000"/><rect x="1649" y="789" width="1" height="139" fill="#000"/><rect x="0" y="629" width="1650" height="1" fill="#000"/><rect x="0" y="631" width="1650" height="1" fill="#000"/><rect x="0" y="787" width="1650" height="1" fill="#000"/><rect x="0" y="789" width="1650" height="1" fill="#000"/><rect x="0" y="927" width="1650" height="1" fill="#000"/><g shape-rendering="crispEdges"><rect x="1650" y="32" width="2" height="1" fill="#000"/><rect x="1650" y="65" width="2" height="1" fill="#000"/><rect x="1650" y="98" width="2" height="1" fill="#000"/><rect x="1650" y="131" width="2" height="1" fill="#000"/><rect x="1650" y="164" width="2" height="1" fill="#000"/><rect x="1650" y="197" width="2" height="1" fill="#000"/><rect x="1650" y="230" width="2" height="1" fill="#000"/><rect x="1650" y="263" width="2" height="1" fill="#000"/><rect x="1650" y="296" width="2" height="1" fill="#000"/><rect x="1650" y="329" width="2" height="1" fill="#000"/><rect x="1650" y="362" width="2" height="1" fill="#000"/><rect x="1650" y="395" width="2" height="1" fill="#000"/><rect x="1650" y="428" width="2" height="1" fill="#000"/><rect x="1650" y="461" width="2" height="1" fill="#000"/><rect x="1650" y="494" width="2" height="1" fill="#000"/><rect x="1650" y="527" width="2" height="1" fill="#000"/><rect x="1650" y="560" width="2" height="1" fill="#000"/><rect x="1650" y="593" width="2" height="1" fill="#000"/></g><text x="1655" y="36" font-size="9.7" fill="#000" stroke="#000" stroke-width="0.08" text-anchor="start" font-weight="normal" textLength="33" lengthAdjust="spacingAndGlyphs" xml:space="preserve">1.00715</text><text x="1655" y="69" font-size="9.7" fill="#000" stroke="#000" stroke-width="0.08" text-anchor="start" font-weight="normal" textLength="33" lengthAdjust="spacingAndGlyphs" xml:space="preserve">1.00405</text><text x="1655" y="102" font-size="9.7" fill="#000" stroke="#000" stroke-width="0.08" text-anchor="start" font-weight="normal" textLength="33" lengthAdjust="spacingAndGlyphs" xml:space="preserve">1.00090</text><text x="1655" y="135" font-size="9.7" fill="#000" stroke="#000" stroke-width="0.08" text-anchor="start" font-weight="normal" textLength="33" lengthAdjust="spacingAndGlyphs" xml:space="preserve">0.99780</text><text x="1655" y="168" font-size="9.7" fill="#000" stroke="#000" stroke-width="0.08" text-anchor="start" font-weight="normal" textLength="33" lengthAdjust="spacingAndGlyphs" xml:space="preserve">0.99465</text><text x="1655" y="201" font-size="9.7" fill="#000" stroke="#000" stroke-width="0.08" text-anchor="start" font-weight="normal" textLength="33" lengthAdjust="spacingAndGlyphs" xml:space="preserve">0.99155</text><text x="1655" y="234" font-size="9.7" fill="#000" stroke="#000" stroke-width="0.08" text-anchor="start" font-weight="normal" textLength="33" lengthAdjust="spacingAndGlyphs" xml:space="preserve">0.98840</text><text x="1655" y="267" font-size="9.7" fill="#000" stroke="#000" stroke-width="0.08" text-anchor="start" font-weight="normal" textLength="33" lengthAdjust="spacingAndGlyphs" xml:space="preserve">0.98530</text><text x="1655" y="300" font-size="9.7" fill="#000" stroke="#000" stroke-width="0.08" text-anchor="start" font-weight="normal" textLength="33" lengthAdjust="spacingAndGlyphs" xml:space="preserve">0.98215</text><text x="1655" y="333" font-size="9.7" fill="#000" stroke="#000" stroke-width="0.08" text-anchor="start" font-weight="normal" textLength="33" lengthAdjust="spacingAndGlyphs" xml:space="preserve">0.97905</text><text x="1655" y="366" font-size="9.7" fill="#000" stroke="#000" stroke-width="0.08" text-anchor="start" font-weight="normal" textLength="33" lengthAdjust="spacingAndGlyphs" xml:space="preserve">0.97590</text><text x="1655" y="399" font-size="9.7" fill="#000" stroke="#000" stroke-width="0.08" text-anchor="start" font-weight="normal" textLength="33" lengthAdjust="spacingAndGlyphs" xml:space="preserve">0.97280</text><text x="1655" y="432" font-size="9.7" fill="#000" stroke="#000" stroke-width="0.08" text-anchor="start" font-weight="normal" textLength="33" lengthAdjust="spacingAndGlyphs" xml:space="preserve">0.96965</text><text x="1655" y="465" font-size="9.7" fill="#000" stroke="#000" stroke-width="0.08" text-anchor="start" font-weight="normal" textLength="33" lengthAdjust="spacingAndGlyphs" xml:space="preserve">0.96655</text><text x="1655" y="498" font-size="9.7" fill="#000" stroke="#000" stroke-width="0.08" text-anchor="start" font-weight="normal" textLength="33" lengthAdjust="spacingAndGlyphs" xml:space="preserve">0.96340</text><text x="1655" y="531" font-size="9.7" fill="#000" stroke="#000" stroke-width="0.08" text-anchor="start" font-weight="normal" textLength="33" lengthAdjust="spacingAndGlyphs" xml:space="preserve">0.96030</text><text x="1655" y="564" font-size="9.7" fill="#000" stroke="#000" stroke-width="0.08" text-anchor="start" font-weight="normal" textLength="33" lengthAdjust="spacingAndGlyphs" xml:space="preserve">0.95715</text><text x="1655" y="597" font-size="9.7" fill="#000" stroke="#000" stroke-width="0.08" text-anchor="start" font-weight="normal" textLength="33" lengthAdjust="spacingAndGlyphs" xml:space="preserve">0.95405</text><rect x="1651" y="493" width="41" height="11" fill="#ff0000"/><text x="1655" y="501.6" font-size="9.7" fill="#fff" stroke="#fff" stroke-width="0.08" text-anchor="start" font-weight="normal" textLength="33" lengthAdjust="spacingAndGlyphs" xml:space="preserve">0.96296</text><rect x="1651" y="528" width="41" height="11" fill="#ff0000"/><text x="1655" y="536.6" font-size="9.7" fill="#fff" stroke="#fff" stroke-width="0.08" text-anchor="start" font-weight="normal" textLength="33" lengthAdjust="spacingAndGlyphs" xml:space="preserve">0.95968</text><rect x="1651" y="555" width="41" height="11" fill="#ffa500"/><text x="1655" y="563.6" font-size="9.7" fill="#fff" stroke="#fff" stroke-width="0.08" text-anchor="start" font-weight="normal" textLength="33" lengthAdjust="spacingAndGlyphs" xml:space="preserve">0.95713</text><rect x="1651" y="566" width="41" height="11" fill="#000000"/><text x="1655" y="574.6" font-size="9.7" fill="#fff" stroke="#fff" stroke-width="0.08" text-anchor="start" font-weight="normal" textLength="33" lengthAdjust="spacingAndGlyphs" xml:space="preserve">0.95627</text><rect x="1651" y="598" width="41" height="11" fill="#0000ff"/><text x="1655" y="606.6" font-size="9.7" fill="#fff" stroke="#fff" stroke-width="0.08" text-anchor="start" font-weight="normal" textLength="33" lengthAdjust="spacingAndGlyphs" xml:space="preserve">0.95300</text><rect x="1651" y="621" width="41" height="11" fill="#0000ff"/><text x="1655" y="629.6" font-size="9.7" fill="#fff" stroke="#fff" stroke-width="0.08" text-anchor="start" font-weight="normal" textLength="33" lengthAdjust="spacingAndGlyphs" xml:space="preserve">0.95089</text><g clip-path="url(#cmacd)" shape-rendering="crispEdges"><rect x="5" y="709" width="3" height="66" fill="#00ff00"/><rect x="13" y="709" width="3" height="64" fill="#00ff00"/><rect x="21" y="709" width="3" height="64" fill="#00ff00"/><rect x="29" y="709" width="3" height="66" fill="#00ff00"/><rect x="37" y="709" width="3" height="67" fill="#00ff00"/><rect x="45" y="709" width="3" height="69" fill="#00ff00"/><rect x="53" y="709" width="3" height="69" fill="#00ff00"/><rect x="61" y="709" width="3" height="68" fill="#00ff00"/><rect x="69" y="709" width="3" height="70" fill="#00ff00"/><rect x="77" y="709" width="3" height="67" fill="#00ff00"/><rect x="85" y="709" width="3" height="71" fill="#00ff00"/><rect x="93" y="709" width="3" height="71" fill="#00ff00"/><rect x="101" y="709" width="3" height="70" fill="#00ff00"/><rect x="109" y="709" width="3" height="67" fill="#00ff00"/><rect x="117" y="709" width="3" height="66" fill="#00ff00"/><rect x="125" y="709" width="3" height="61" fill="#00ff00"/><rect x="133" y="709" width="3" height="57" fill="#00ff00"/><rect x="141" y="709" width="3" height="55" fill="#00ff00"/><rect x="149" y="709" width="3" height="53" fill="#00ff00"/><rect x="157" y="709" width="3" height="51" fill="#00ff00"/><rect x="165" y="709" width="3" height="49" fill="#00ff00"/><rect x="173" y="709" width="3" height="47" fill="#00ff00"/><rect x="181" y="709" width="3" height="47" fill="#00ff00"/><rect x="189" y="709" width="3" height="45" fill="#00ff00"/><rect x="197" y="709" width="3" height="45" fill="#00ff00"/><rect x="205" y="709" width="3" height="42" fill="#00ff00"/><rect x="213" y="709" width="3" height="40" fill="#00ff00"/><rect x="221" y="709" width="3" height="39" fill="#00ff00"/><rect x="229" y="709" width="3" height="38" fill="#00ff00"/><rect x="237" y="709" width="3" height="37" fill="#00ff00"/><rect x="245" y="709" width="3" height="36" fill="#00ff00"/><rect x="253" y="709" width="3" height="35" fill="#00ff00"/><rect x="261" y="709" width="3" height="34" fill="#00ff00"/><rect x="269" y="709" width="3" height="33" fill="#00ff00"/><rect x="277" y="709" width="3" height="32" fill="#00ff00"/><rect x="285" y="709" width="3" height="30" fill="#00ff00"/><rect x="293" y="709" width="3" height="28" fill="#00ff00"/><rect x="301" y="709" width="3" height="27" fill="#00ff00"/><rect x="309" y="709" width="3" height="23" fill="#00ff00"/><rect x="317" y="709" width="3" height="20" fill="#00ff00"/><rect x="325" y="709" width="3" height="18" fill="#00ff00"/><rect x="333" y="709" width="3" height="17" fill="#00ff00"/><rect x="341" y="709" width="3" height="15" fill="#00ff00"/><rect x="349" y="709" width="3" height="11" fill="#00ff00"/><rect x="357" y="709" width="3" height="9" fill="#00ff00"/><rect x="365" y="709" width="3" height="7" fill="#00ff00"/><rect x="373" y="709" width="3" height="3" fill="#00ff00"/><rect x="381" y="708" width="3" height="1" fill="#00ff00"/><rect x="389" y="706" width="3" height="3" fill="#00ff00"/><rect x="397" y="705" width="3" height="4" fill="#00ff00"/><rect x="405" y="707" width="3" height="2" fill="#00ff00"/><rect x="413" y="708" width="3" height="1" fill="#00ff00"/><rect x="421" y="709" width="3" height="0" fill="#00ff00"/><rect x="429" y="709" width="3" height="4" fill="#00ff00"/><rect x="437" y="709" width="3" height="6" fill="#00ff00"/><rect x="445" y="709" width="3" height="8" fill="#00ff00"/><rect x="453" y="709" width="3" height="9" fill="#00ff00"/><rect x="461" y="709" width="3" height="9" fill="#00ff00"/><rect x="469" y="709" width="3" height="1" fill="#00ff00"/><rect x="477" y="709" width="3" height="0" fill="#00ff00"/><rect x="485" y="708" width="3" height="1" fill="#00ff00"/><rect x="493" y="707" width="3" height="2" fill="#00ff00"/><rect x="501" y="707" width="3" height="2" fill="#00ff00"/><rect x="509" y="706" width="3" height="3" fill="#00ff00"/><rect x="517" y="700" width="3" height="9" fill="#00ff00"/><rect x="525" y="693" width="3" height="16" fill="#00ff00"/><rect x="533" y="688" width="3" height="21" fill="#00ff00"/><rect x="541" y="683" width="3" height="26" fill="#00ff00"/><rect x="549" y="677" width="3" height="32" fill="#00ff00"/><rect x="557" y="671" width="3" height="38" fill="#00ff00"/><rect x="565" y="670" width="3" height="39" fill="#00ff00"/><rect x="573" y="670" width="3" height="39" fill="#00ff00"/><rect x="581" y="670" width="3" height="39" fill="#00ff00"/><rect x="589" y="669" width="3" height="40" fill="#00ff00"/><rect x="597" y="668" width="3" height="41" fill="#00ff00"/><rect x="605" y="667" width="3" height="42" fill="#00ff00"/><rect x="613" y="668" width="3" height="41" fill="#00ff00"/><rect x="621" y="666" width="3" height="43" fill="#00ff00"/><rect x="629" y="665" width="3" height="44" fill="#00ff00"/><rect x="637" y="666" width="3" height="43" fill="#00ff00"/><rect x="645" y="666" width="3" height="43" fill="#00ff00"/><rect x="653" y="668" width="3" height="41" fill="#00ff00"/><rect x="661" y="669" width="3" height="40" fill="#00ff00"/><rect x="669" y="668" width="3" height="41" fill="#00ff00"/><rect x="677" y="668" width="3" height="41" fill="#00ff00"/><rect x="685" y="670" width="3" height="39" fill="#00ff00"/><rect x="693" y="672" width="3" height="37" fill="#00ff00"/><rect x="701" y="669" width="3" height="40" fill="#00ff00"/><rect x="709" y="664" width="3" height="45" fill="#00ff00"/><rect x="717" y="661" width="3" height="48" fill="#00ff00"/><rect x="725" y="657" width="3" height="52" fill="#00ff00"/><rect x="733" y="656" width="3" height="53" fill="#00ff00"/><rect x="741" y="653" width="3" height="56" fill="#00ff00"/><rect x="749" y="649" width="3" height="60" fill="#00ff00"/><rect x="757" y="645" width="3" height="64" fill="#00ff00"/><rect x="765" y="641" width="3" height="68" fill="#00ff00"/><rect x="773" y="640" width="3" height="69" fill="#00ff00"/><rect x="781" y="640" width="3" height="69" fill="#00ff00"/><rect x="789" y="647" width="3" height="62" fill="#00ff00"/><rect x="797" y="648" width="3" height="61" fill="#00ff00"/><rect x="805" y="646" width="3" height="63" fill="#00ff00"/><rect x="813" y="642" width="3" height="67" fill="#00ff00"/><rect x="821" y="642" width="3" height="67" fill="#00ff00"/><rect x="829" y="644" width="3" height="65" fill="#00ff00"/><rect x="837" y="646" width="3" height="63" fill="#00ff00"/><rect x="845" y="648" width="3" height="61" fill="#00ff00"/><rect x="853" y="648" width="3" height="61" fill="#00ff00"/><rect x="861" y="655" width="3" height="54" fill="#00ff00"/><rect x="869" y="662" width="3" height="47" fill="#00ff00"/><rect x="877" y="667" width="3" height="42" fill="#00ff00"/><rect x="885" y="684" width="3" height="25" fill="#00ff00"/><rect x="893" y="698" width="3" height="11" fill="#00ff00"/><rect x="901" y="709" width="3" height="11" fill="#00ff00"/><rect x="909" y="709" width="3" height="30" fill="#00ff00"/><rect x="917" y="709" width="3" height="43" fill="#00ff00"/><rect x="925" y="709" width="3" height="49" fill="#00ff00"/><rect x="933" y="709" width="3" height="60" fill="#00ff00"/><rect x="941" y="709" width="3" height="67" fill="#00ff00"/><rect x="949" y="709" width="3" height="66" fill="#00ff00"/><rect x="957" y="709" width="3" height="64" fill="#00ff00"/><rect x="965" y="709" width="3" height="63" fill="#00ff00"/><rect x="973" y="709" width="3" height="64" fill="#00ff00"/><rect x="981" y="709" width="3" height="66" fill="#00ff00"/><rect x="989" y="709" width="3" height="66" fill="#00ff00"/><rect x="997" y="709" width="3" height="63" fill="#00ff00"/><rect x="1005" y="709" width="3" height="62" fill="#00ff00"/><rect x="1013" y="709" width="3" height="59" fill="#00ff00"/><rect x="1021" y="709" width="3" height="57" fill="#00ff00"/><rect x="1029" y="709" width="3" height="55" fill="#00ff00"/><rect x="1037" y="709" width="3" height="53" fill="#00ff00"/><rect x="1045" y="709" width="3" height="49" fill="#00ff00"/><rect x="1053" y="709" width="3" height="47" fill="#00ff00"/><rect x="1061" y="709" width="3" height="44" fill="#00ff00"/><rect x="1069" y="709" width="3" height="42" fill="#00ff00"/><rect x="1077" y="709" width="3" height="39" fill="#00ff00"/><rect x="1085" y="709" width="3" height="38" fill="#00ff00"/><rect x="1093" y="709" width="3" height="39" fill="#00ff00"/><rect x="1101" y="709" width="3" height="40" fill="#00ff00"/><rect x="1109" y="709" width="3" height="41" fill="#00ff00"/><rect x="1117" y="709" width="3" height="40" fill="#00ff00"/><rect x="1125" y="709" width="3" height="35" fill="#00ff00"/><rect x="1133" y="709" width="3" height="33" fill="#00ff00"/><rect x="1141" y="709" width="3" height="34" fill="#00ff00"/><rect x="1149" y="709" width="3" height="35" fill="#00ff00"/><rect x="1157" y="709" width="3" height="34" fill="#00ff00"/><rect x="1165" y="709" width="3" height="34" fill="#00ff00"/><rect x="1173" y="709" width="3" height="32" fill="#00ff00"/><rect x="1181" y="709" width="3" height="37" fill="#00ff00"/><rect x="1189" y="709" width="3" height="37" fill="#00ff00"/><rect x="1197" y="709" width="3" height="35" fill="#00ff00"/><rect x="1205" y="709" width="3" height="35" fill="#00ff00"/><rect x="1213" y="709" width="3" height="35" fill="#00ff00"/><rect x="1221" y="709" width="3" height="34" fill="#00ff00"/><rect x="1229" y="709" width="3" height="32" fill="#00ff00"/><rect x="1237" y="709" width="3" height="34" fill="#00ff00"/><rect x="1245" y="709" width="3" height="32" fill="#00ff00"/><rect x="1253" y="709" width="3" height="33" fill="#00ff00"/><rect x="1261" y="709" width="3" height="32" fill="#00ff00"/><rect x="1269" y="709" width="3" height="32" fill="#00ff00"/><rect x="1277" y="709" width="3" height="31" fill="#00ff00"/><rect x="1285" y="709" width="3" height="29" fill="#00ff00"/><rect x="1293" y="709" width="3" height="26" fill="#00ff00"/><rect x="1301" y="709" width="3" height="25" fill="#00ff00"/><polyline points="-1.5,773.0 6.5,775.0 14.5,776.3 22.5,776.3 30.5,776.3 38.5,776.3 46.5,775.0 54.5,775.0 62.5,774.1 70.5,776.0 78.5,776.0 86.5,776.8 94.5,777.5 102.5,778.0 110.5,778.0 118.5,777.7 126.5,776.8 134.5,775.6 142.5,773.9 150.5,772.4 158.5,770.2 166.5,767.8 174.5,765.3 182.5,763.0 190.5,760.8 198.5,758.9 206.5,757.2 214.5,755.5 222.5,753.9 230.5,752.5 238.5,751.1 246.5,749.8 254.5,748.5 262.5,747.2 270.5,745.9 278.5,744.8 286.5,743.7 294.5,742.6 302.5,741.4 310.5,739.8 318.5,738.1 326.5,736.2 334.5,734.3 342.5,732.3 350.5,730.1 358.5,727.8 366.5,725.4 374.5,722.7 382.5,720.0 390.5,717.4 398.5,714.9 406.5,712.9 414.5,711.2 422.5,709.9 430.5,709.2 438.5,709.1 446.5,709.7 454.5,710.8 462.5,712.1 470.5,712.7 478.5,713.0 486.5,713.0 494.5,712.8 502.5,712.2 510.5,711.2 518.5,709.3 526.5,706.4 534.5,703.1 542.5,700.1 550.5,696.5 558.5,692.3 566.5,688.2 574.5,684.0 582.5,680.0 590.5,676.6 598.5,673.9 606.5,671.6 614.5,669.9 622.5,668.7 630.5,668.0 638.5,667.6 646.5,667.2 654.5,667.0 662.5,667.0 670.5,667.0 678.5,667.1 686.5,667.3 694.5,668.0 702.5,668.4 710.5,668.2 718.5,667.6 726.5,666.4 734.5,665.0 742.5,663.3 750.5,661.2 758.5,658.5 766.5,655.1 774.5,651.9 782.5,649.2 790.5,647.6 798.5,646.6 806.5,645.5 814.5,644.3 822.5,643.5 830.5,643.3 838.5,643.9 846.5,644.7 854.5,645.6 862.5,646.5 870.5,648.0 878.5,650.4 886.5,655.1 894.5,661.3 902.5,669.8 910.5,680.1 918.5,691.6 926.5,703.9 934.5,716.5 942.5,729.1 950.5,741.1 958.5,750.9 966.5,759.1 974.5,765.0 982.5,769.0 990.5,771.6 998.5,773.2 1006.5,773.5 1014.5,772.6 1022.5,771.6 1030.5,770.7 1038.5,769.6 1046.5,767.9 1054.5,765.8 1062.5,763.4 1070.5,761.0 1078.5,758.5 1086.5,756.2 1094.5,754.1 1102.5,752.4 1110.5,751.2 1118.5,750.1 1126.5,748.8 1134.5,747.5 1142.5,746.6 1150.5,746.1 1158.5,745.7 1166.5,745.2 1174.5,744.3 1182.5,743.8 1190.5,743.5 1198.5,743.5 1206.5,743.8 1214.5,743.9 1222.5,743.9 1230.5,743.7 1238.5,743.7 1246.5,743.7 1254.5,743.4 1262.5,742.9 1270.5,742.6 1278.5,742.1 1286.5,741.4 1294.5,740.5 1302.5,739.6" fill="none" stroke="#ff0000" stroke-width="2"/></g><text x="-6" y="644" font-size="9.7" fill="#000" stroke="#000" stroke-width="0.08" text-anchor="start" font-weight="normal" textLength="153.3" lengthAdjust="spacingAndGlyphs" xml:space="preserve">MACD(12,26,9) -0.002315 -0.002816</text><g shape-rendering="crispEdges"><rect x="1650" y="633" width="2" height="1" fill="#000"/><rect x="1650" y="709" width="2" height="1" fill="#000"/><rect x="1650" y="786" width="2" height="1" fill="#000"/></g><text x="1653" y="642" font-size="9.7" fill="#000" stroke="#000" stroke-width="0.08" text-anchor="start" font-weight="normal" textLength="38" lengthAdjust="spacingAndGlyphs" xml:space="preserve">0.007129</text><text x="1653" y="713" font-size="9.7" fill="#000" stroke="#000" stroke-width="0.08" text-anchor="start" font-weight="normal" textLength="17.7" lengthAdjust="spacingAndGlyphs" xml:space="preserve">0.00</text><text x="1653" y="785" font-size="9.7" fill="#000" stroke="#000" stroke-width="0.08" text-anchor="start" font-weight="normal" textLength="36" lengthAdjust="spacingAndGlyphs" xml:space="preserve">-0.00729</text><g clip-path="url(#crsi)" shape-rendering="crispEdges"><line x1="3" y1="818.5" x2="1649" y2="818.5" stroke="#000" stroke-width="1" stroke-dasharray="3,3"/><line x1="3" y1="858.5" x2="1649" y2="858.5" stroke="#000" stroke-width="1" stroke-dasharray="3,3"/><line x1="3" y1="906.5" x2="1649" y2="906.5" stroke="#000" stroke-width="1" stroke-dasharray="3,3"/><polyline points="-1.5,880.5 6.5,881.7 14.5,886.6 22.5,889.1 30.5,893.0 38.5,894.8 46.5,895.0 54.5,895.7 62.5,893.8 70.5,897.7 78.5,889.1 86.5,893.8 94.5,890.9 102.5,890.9 110.5,885.0 118.5,884.6 126.5,877.8 134.5,877.8 142.5,880.8 150.5,881.3 158.5,881.7 166.5,885.6 174.5,880.8 182.5,883.1 190.5,883.3 198.5,885.2 206.5,887.0 214.5,877.8 222.5,880.2 230.5,881.7 238.5,880.8 246.5,880.8 254.5,884.1 262.5,873.0 270.5,871.0 278.5,875.5 286.5,875.5 294.5,872.6 302.5,867.7 310.5,859.3 318.5,864.2 326.5,873.0 334.5,862.7 342.5,862.7 350.5,858.8 358.5,858.4 366.5,851.0 374.5,844.8 382.5,849.6 390.5,851.0 398.5,849.6 406.5,865.2 414.5,863.6 422.5,864.6 430.5,870.4 438.5,870.6 446.5,870.6 454.5,875.9 462.5,856.4 470.5,847.7 478.5,851.6 486.5,852.2 494.5,856.8 502.5,856.8 510.5,854.5 518.5,834.0 526.5,831.1 534.5,830.7 542.5,829.6 550.5,823.0 558.5,820.4 566.5,837.6 574.5,838.9 582.5,837.0 590.5,835.0 598.5,832.1 606.5,831.5 614.5,837.9 622.5,830.2 630.5,830.2 638.5,837.9 646.5,834.0 654.5,840.9 662.5,840.9 670.5,834.0 678.5,835.0 686.5,841.4 694.5,842.8 702.5,832.1 710.5,825.9 718.5,826.9 726.5,825.7 734.5,825.7 742.5,822.4 750.5,819.5 758.5,816.2 766.5,816.0 774.5,821.4 782.5,824.9 790.5,843.8 798.5,837.9 806.5,828.2 814.5,827.8 822.5,835.0 830.5,835.4 838.5,836.0 846.5,836.0 854.5,831.5 862.5,852.5 870.5,852.5 878.5,852.5 886.5,878.8 894.5,876.9 902.5,889.9 910.5,889.9 918.5,888.5 926.5,880.8 934.5,885.6 942.5,885.6 950.5,872.0 958.5,873.6 966.5,873.9 974.5,878.4 982.5,878.8 990.5,877.4 998.5,876.8 1006.5,872.6 1014.5,873.7 1022.5,873.9 1030.5,878.0 1038.5,870.8 1046.5,871.6 1054.5,871.6 1062.5,871.6 1070.5,870.6 1078.5,868.7 1086.5,871.2 1094.5,878.4 1102.5,878.4 1110.5,879.4 1118.5,879.4 1126.5,864.0 1134.5,867.1 1142.5,875.3 1150.5,875.7 1158.5,872.6 1166.5,872.6 1174.5,872.6 1182.5,881.5 1190.5,881.9 1198.5,876.4 1206.5,877.8 1214.5,877.8 1222.5,878.4 1230.5,868.7 1238.5,877.8 1246.5,873.9 1254.5,874.7 1262.5,875.3 1270.5,876.8 1278.5,871.8 1286.5,871.8 1294.5,869.1 1302.5,870.2" fill="none" stroke="#1e90ff" stroke-width="2"/></g><text x="-6" y="801.6" font-size="9.7" fill="#000" stroke="#000" stroke-width="0.08" text-anchor="start" font-weight="normal" textLength="67.8" lengthAdjust="spacingAndGlyphs" xml:space="preserve">RSI(14) 41.1803</text><g shape-rendering="crispEdges"><rect x="1650" y="791" width="2" height="1" fill="#000"/></g><text x="1653" y="800.5" font-size="9.7" fill="#000" stroke="#000" stroke-width="0.08" text-anchor="start" font-weight="normal" textLength="14.5" lengthAdjust="spacingAndGlyphs" xml:space="preserve">100</text><text x="1652" y="822" font-size="9.7" fill="#000" stroke="#000" stroke-width="0.08" text-anchor="start" font-weight="normal" textLength="10" lengthAdjust="spacingAndGlyphs" xml:space="preserve">80</text><text x="1652" y="862" font-size="9.7" fill="#000" stroke="#000" stroke-width="0.08" text-anchor="start" font-weight="normal" textLength="10" lengthAdjust="spacingAndGlyphs" xml:space="preserve">50</text><text x="1652.5" y="910" font-size="9.7" fill="#000" stroke="#000" stroke-width="0.08" text-anchor="start" font-weight="normal" textLength="9" lengthAdjust="spacingAndGlyphs" xml:space="preserve">15</text><text x="1652.5" y="924" font-size="9.7" fill="#000" stroke="#000" stroke-width="0.08" text-anchor="start" font-weight="normal" textLength="5" lengthAdjust="spacingAndGlyphs" xml:space="preserve">0</text><g shape-rendering="crispEdges"><rect x="54" y="928" width="1" height="3" fill="#000"/><rect x="118" y="928" width="1" height="3" fill="#000"/><rect x="182" y="928" width="1" height="3" fill="#000"/><rect x="246" y="928" width="1" height="3" fill="#000"/><rect x="310" y="928" width="1" height="3" fill="#000"/><rect x="374" y="928" width="1" height="3" fill="#000"/><rect x="438" y="928" width="1" height="3" fill="#000"/><rect x="502" y="928" width="1" height="3" fill="#000"/><rect x="566" y="928" width="1" height="3" fill="#000"/><rect x="630" y="928" width="1" height="3" fill="#000"/><rect x="694" y="928" width="1" height="3" fill="#000"/><rect x="758" y="928" width="1" height="3" fill="#000"/><rect x="822" y="928" width="1" height="3" fill="#000"/><rect x="886" y="928" width="1" height="3" fill="#000"/><rect x="950" y="928" width="1" height="3" fill="#000"/><rect x="1014" y="928" width="1" height="3" fill="#000"/><rect x="1078" y="928" width="1" height="3" fill="#000"/><rect x="1142" y="928" width="1" height="3" fill="#000"/><rect x="1206" y="928" width="1" height="3" fill="#000"/><rect x="1270" y="928" width="1" height="3" fill="#000"/></g><text x="-10.3" y="940" font-size="9.7" fill="#000" stroke="#000" stroke-width="0.08" text-anchor="start" font-weight="normal" textLength="54" lengthAdjust="spacingAndGlyphs" xml:space="preserve">22 May 2022</text><text x="54" y="940" font-size="9.7" fill="#000" stroke="#000" stroke-width="0.08" text-anchor="start" font-weight="normal" textLength="56.5" lengthAdjust="spacingAndGlyphs" xml:space="preserve">23 May 20:00</text><text x="118" y="940" font-size="9.7" fill="#000" stroke="#000" stroke-width="0.08" text-anchor="start" font-weight="normal" textLength="56.5" lengthAdjust="spacingAndGlyphs" xml:space="preserve">25 May 04:00</text><text x="182" y="940" font-size="9.7" fill="#000" stroke="#000" stroke-width="0.08" text-anchor="start" font-weight="normal" textLength="56.5" lengthAdjust="spacingAndGlyphs" xml:space="preserve">26 May 12:00</text><text x="246" y="940" font-size="9.7" fill="#000" stroke="#000" stroke-width="0.08" text-anchor="start" font-weight="normal" textLength="56.5" lengthAdjust="spacingAndGlyphs" xml:space="preserve">29 May 23:00</text><text x="310" y="940" font-size="9.7" fill="#000" stroke="#000" stroke-width="0.08" text-anchor="start" font-weight="normal" textLength="56.5" lengthAdjust="spacingAndGlyphs" xml:space="preserve">31 May 04:00</text><text x="374" y="940" font-size="9.7" fill="#000" stroke="#000" stroke-width="0.08" text-anchor="start" font-weight="normal" textLength="46.4" lengthAdjust="spacingAndGlyphs" xml:space="preserve">1 Jun 12:00</text><text x="438" y="940" font-size="9.7" fill="#000" stroke="#000" stroke-width="0.08" text-anchor="start" font-weight="normal" textLength="46.4" lengthAdjust="spacingAndGlyphs" xml:space="preserve">2 Jun 20:00</text><text x="502" y="940" font-size="9.7" fill="#000" stroke="#000" stroke-width="0.08" text-anchor="start" font-weight="normal" textLength="46.4" lengthAdjust="spacingAndGlyphs" xml:space="preserve">6 Jun 04:00</text><text x="566" y="940" font-size="9.7" fill="#000" stroke="#000" stroke-width="0.08" text-anchor="start" font-weight="normal" textLength="46.4" lengthAdjust="spacingAndGlyphs" xml:space="preserve">7 Jun 12:00</text><text x="630" y="940" font-size="9.7" fill="#000" stroke="#000" stroke-width="0.08" text-anchor="start" font-weight="normal" textLength="46.4" lengthAdjust="spacingAndGlyphs" xml:space="preserve">8 Jun 20:00</text><text x="694" y="940" font-size="9.7" fill="#000" stroke="#000" stroke-width="0.08" text-anchor="start" font-weight="normal" textLength="51.5" lengthAdjust="spacingAndGlyphs" xml:space="preserve">10 Jun 04:00</text><text x="758" y="940" font-size="9.7" fill="#000" stroke="#000" stroke-width="0.08" text-anchor="start" font-weight="normal" textLength="51.5" lengthAdjust="spacingAndGlyphs" xml:space="preserve">13 Jun 12:00</text><text x="822" y="940" font-size="9.7" fill="#000" stroke="#000" stroke-width="0.08" text-anchor="start" font-weight="normal" textLength="51.5" lengthAdjust="spacingAndGlyphs" xml:space="preserve">14 Jun 20:00</text><text x="886" y="940" font-size="9.7" fill="#000" stroke="#000" stroke-width="0.08" text-anchor="start" font-weight="normal" textLength="51.5" lengthAdjust="spacingAndGlyphs" xml:space="preserve">16 Jun 04:00</text><text x="950" y="940" font-size="9.7" fill="#000" stroke="#000" stroke-width="0.08" text-anchor="start" font-weight="normal" textLength="51.5" lengthAdjust="spacingAndGlyphs" xml:space="preserve">17 Jun 12:00</text><text x="1014" y="940" font-size="9.7" fill="#000" stroke="#000" stroke-width="0.08" text-anchor="start" font-weight="normal" textLength="51.5" lengthAdjust="spacingAndGlyphs" xml:space="preserve">20 Jun 20:00</text><text x="1078" y="940" font-size="9.7" fill="#000" stroke="#000" stroke-width="0.08" text-anchor="start" font-weight="normal" textLength="51.5" lengthAdjust="spacingAndGlyphs" xml:space="preserve">22 Jun 04:00</text><text x="1142" y="940" font-size="9.7" fill="#000" stroke="#000" stroke-width="0.08" text-anchor="start" font-weight="normal" textLength="51.5" lengthAdjust="spacingAndGlyphs" xml:space="preserve">23 Jun 12:00</text><text x="1206" y="940" font-size="9.7" fill="#000" stroke="#000" stroke-width="0.08" text-anchor="start" font-weight="normal" textLength="51.5" lengthAdjust="spacingAndGlyphs" xml:space="preserve">26 Jun 23:00</text><text x="1270" y="940" font-size="9.7" fill="#000" stroke="#000" stroke-width="0.08" text-anchor="start" font-weight="normal" textLength="51.5" lengthAdjust="spacingAndGlyphs" xml:space="preserve">28 Jun 04:00</text><g id="toolbar"><defs><pattern id="chk" width="2" height="2" patternUnits="userSpaceOnUse"><rect width="2" height="2" fill="#f4f4f4"/><rect width="1" height="1" fill="#e6e6e6"/><rect x="1" y="1" width="1" height="1" fill="#e6e6e6"/></pattern><linearGradient id="lime" x1="0" x2="1"><stop offset="0" stop-color="#2fd82f"/><stop offset="0.5" stop-color="#9af59a"/><stop offset="1" stop-color="#22c422"/></linearGradient><radialGradient id="badge" cx="0.45" cy="0.3" r="0.7"><stop offset="0" stop-color="#f06a3c"/><stop offset="1" stop-color="#d42a12"/></radialGradient><linearGradient id="gold" x1="0" y1="0" x2="0" y2="1"><stop offset="0" stop-color="#f7e27a"/><stop offset="1" stop-color="#d9a81e"/></linearGradient></defs><path d="M0,12.5 L3.5,16 L1,19 L0,19 Z" fill="#d6a01c"/><rect x="10" y="0" width="1" height="20" fill="#a0a0a0"/><rect x="11" y="0" width="1" height="20" fill="#ffffff"/><rect x="15" y="0" width="1" height="20" fill="#ffffff"/><rect x="15" y="20" width="66" height="1" fill="#a0a0a0"/><rect x="80" y="0" width="1" height="20" fill="#a0a0a0"/><path d="M19.5,1.5 H28 L31.5,5 V14.5 H19.5 Z" fill="#fbfbfb" stroke="#7a7a7a" stroke-width="1"/><path d="M28,1.5 V5 H31.5 Z" fill="#d8d8d8" stroke="#7a7a7a" stroke-width="1"/><rect x="21" y="3" width="3" height="1" fill="#909090"/><rect x="21" y="6" width="6" height="1" fill="#a8a8a8"/><rect x="21" y="9" width="4" height="1" fill="#a8a8a8"/><path d="M27.5,7.5 h3 v4 h4 v3 h-4 v4 h-3 v-4 h-4 v-3 h4 z" fill="url(#lime)" stroke="#129a12" stroke-width="1"/><g stroke="#000" stroke-width="1" fill="none"><path d="M41.5,1.8 v1.4 M38,3.5 h6.5 M39.6,4.3 l0.8,1.4 M43.4,4.3 l-0.8,1.4 M38,6.5 h6.5 M38.5,8.5 h6 M41.5,6.5 v6.5 M39.3,10.3 l-1.3,2.2 M43.3,10.3 l1.3,1.8"/><path d="M49,2.1 l-3.5,1.4 v4.8 q0,3 -0.9,4.7 M45.5,6.5 h4.5 M47.5,6.5 v6.5"/><path d="M51.2,2.2 l1.4,2.1 M50.3,6.5 h1.2 v5.8 l2.8,-2.6"/><path d="M54.5,3.5 h7.5 M58.5,3.5 v9 h-2.3"/><path d="M64.5,2 l1,1.3 M70.5,2 l-1,1.3 M63.5,4.5 h9 v4 h-9 z M63.5,6.5 h9 M67.9,4.5 v8.7 M62,10.5 h12"/></g><path d="M87.5,9.5 L94,3 L102.5,9.5 L95,17.5 Z" fill="#a8720e"/><path d="M88,9 L94,3.2 L101.5,8.8 L94.8,15.5 Z" fill="url(#gold)"/><path d="M94.8,15.5 L101.5,8.8 L102.5,9.8 L95.2,17.3 Z" fill="#7a4e08"/><path d="M117,3 L119,1.5 H128.5 V12 H117 Z" fill="#2f8fe6"/><rect x="117" y="3" width="3" height="9" fill="#6cc0ff"/><rect x="122" y="5" width="5" height="2" fill="#e4f2ff"/><rect x="122" y="8" width="5" height="1" fill="#9fd0ff"/><path d="M116.5,17.5 Q114,15.5 116.8,13.2 Q117.5,10.2 121,11 Q123.5,8.5 126.8,10.6 Q130.5,10.8 130.6,13.8 Q132.5,16 130.5,17.5 Z" fill="#f2f5fa" stroke="#6f88b8" stroke-width="1"/><circle cx="151" cy="10" r="7.3" fill="none" stroke="#a8c8ec" stroke-width="1.3"/><path d="M151,2.7 A7.3,7.3 0 0 1 151,17.3" fill="none" stroke="#9ccc9c" stroke-width="1.3"/><circle cx="151" cy="10" r="4.3" fill="none" stroke="#5f90dc" stroke-width="1.3"/><path d="M151,5.7 A4.3,4.3 0 0 1 151,14.3" fill="none" stroke="#6cb86c" stroke-width="1.3"/><circle cx="151" cy="10" r="1.7" fill="#2452c4"/><rect x="151" y="10" width="1.5" height="8" fill="#1aa21a"/><path d="M172,9 L185.5,9 L180.5,17.5 L176,17.5 Z" fill="#f4d84e" stroke="#caa42c" stroke-width="0.8"/><ellipse cx="178.3" cy="7.3" rx="8" ry="2.6" fill="#5aa6d6"/><ellipse cx="178.3" cy="5" rx="4.2" ry="3.2" fill="#82c4ea"/><circle cx="182.3" cy="13.8" r="4.2" fill="#d72a1c"/><rect x="180.8" y="12.3" width="3" height="3" fill="#ffffff"/><g stroke="#000" stroke-width="1" fill="none"><path d="M196.3,2.2 l-0.8,1.8 M192.5,4.5 h8.8 v8.8 h-8.8 z M192.5,7 h8.8 M192.5,9.8 h8.8"/><path d="M204,4.5 h4.5 M203.3,7.5 h5.8 M206.5,7.5 l-2.2,5 l4.5,-0.6 M207.6,10.2 l1,1.6"/><path d="M209.2,5.5 h4.5 v7.5 l-1.5,0.5 M211.3,2.8 v3 q-0.3,5 -2.6,7.7"/><path d="M220.5,2.2 v1.8 M215.4,5.5 h11.2 M218.6,7 l-2.6,2.5 M222.6,7 l2.8,2.5 M217.6,8.8 q3,4 8,4.8 M224,8.8 q-3,4 -8.6,4.8"/><path d="M229.3,3.5 h7.5 v4.5 h-7.5 z M229.3,5.8 h7.5 M228,9.9 h9.3 v3.2 l-1,0.6 M230.7,10.5 l-2.3,2.6 M233.3,10.5 l-2.5,3 M235.7,10.5 l-2.6,3.2"/></g><rect x="246" y="0" width="1" height="20" fill="#a0a0a0"/><rect x="247" y="0" width="1" height="20" fill="#ffffff"/><rect x="250" y="1" width="3" height="1" fill="#b4b4b4"/><rect x="250" y="3" width="3" height="1" fill="#b4b4b4"/><rect x="250" y="5" width="3" height="1" fill="#b4b4b4"/><rect x="250" y="7" width="3" height="1" fill="#b4b4b4"/><rect x="250" y="9" width="3" height="1" fill="#b4b4b4"/><rect x="250" y="11" width="3" height="1" fill="#b4b4b4"/><rect x="250" y="13" width="3" height="1" fill="#b4b4b4"/><rect x="250" y="15" width="3" height="1" fill="#b4b4b4"/><rect x="250" y="17" width="3" height="1" fill="#b4b4b4"/><rect x="264" y="4" width="1" height="14" fill="#555"/><rect x="262" y="15" width="15" height="1" fill="#555"/><path d="M262.5,6.5 L264.5,4 L266.5,6.5 Z" fill="#555"/><path d="M274.5,13.5 L277,15.5 L274.5,17.5 Z" fill="#555"/><rect x="270" y="5" width="1" height="9" fill="#1a9a1a"/><rect x="270" y="5" width="3" height="1" fill="#1a9a1a"/><rect x="268" y="12" width="2" height="1" fill="#1a9a1a"/><rect x="284" y="0" width="1" height="20" fill="#a0a0a0"/><rect x="285" y="0" width="24" height="20" fill="url(#chk)"/><rect x="284" y="0" width="1" height="20" fill="#a0a0a0"/><rect x="309" y="0" width="1" height="21" fill="#ffffff"/><rect x="285" y="20" width="24" height="1" fill="#ffffff"/><rect x="292" y="4" width="1" height="14" fill="#555"/><rect x="290" y="15" width="15" height="1" fill="#555"/><path d="M290.5,6.5 L292.5,4 L294.5,6.5 Z" fill="#555"/><path d="M302.5,13.5 L305,15.5 L302.5,17.5 Z" fill="#555"/><rect x="298" y="2" width="1" height="12" fill="#137a13"/><rect x="296.5" y="4.5" width="4" height="7" fill="url(#lime)" stroke="#139013" stroke-width="1"/><rect x="320" y="4" width="1" height="14" fill="#555"/><rect x="318" y="15" width="15" height="1" fill="#555"/><path d="M318.5,6.5 L320.5,4 L322.5,6.5 Z" fill="#555"/><path d="M330.5,13.5 L333,15.5 L330.5,17.5 Z" fill="#555"/><path d="M319,12.5 Q322.5,7 325,7 Q327,7 331,11" fill="none" stroke="#2f9a2f" stroke-width="1.2"/><rect x="341" y="0" width="1" height="20" fill="#a0a0a0"/><rect x="342" y="0" width="1" height="20" fill="#ffffff"/><path d="M358.9,11 L364.9,17" stroke="#b88a12" stroke-width="2.8"/><path d="M359.4,11.2 L364.4,16.2" stroke="#f2dc55" stroke-width="1.1"/><circle cx="355.9" cy="8" r="5.3" fill="#dcf0fc" stroke="#3c7cc4" stroke-width="1.2"/><rect x="352.9" y="7.3" width="6" height="1.5" fill="#3f7fb8"/><rect x="355.15" y="5" width="1.5" height="6" fill="#3f7fb8"/><path d="M386.9,11 L392.9,17" stroke="#b88a12" stroke-width="2.8"/><path d="M387.4,11.2 L392.4,16.2" stroke="#f2dc55" stroke-width="1.1"/><circle cx="383.9" cy="8" r="5.3" fill="#dcf0fc" stroke="#3c7cc4" stroke-width="1.2"/><rect x="380.9" y="7.3" width="6" height="1.5" fill="#3f7fb8"/><rect x="406" y="2" width="8" height="8" fill="#2f9a1f"/><rect x="414" y="2" width="8" height="8" fill="#2456d0"/><rect x="406" y="10" width="8" height="8" fill="#2456d0"/><rect x="414" y="10" width="8" height="8" fill="#2f9a1f"/><rect x="407" y="5" width="6" height="4" fill="#ffffff"/><rect x="415" y="5" width="6" height="4" fill="#ffffff"/><rect x="407" y="13" width="6" height="4" fill="#ffffff"/><rect x="415" y="13" width="6" height="4" fill="#ffffff"/><rect x="431" y="0" width="1" height="20" fill="#a0a0a0"/><rect x="432" y="0" width="1" height="20" fill="#ffffff"/><rect x="437" y="0" width="24" height="20" fill="url(#chk)"/><rect x="436" y="0" width="1" height="20" fill="#a0a0a0"/><rect x="461" y="0" width="1" height="21" fill="#ffffff"/><rect x="437" y="20" width="24" height="1" fill="#ffffff"/><rect x="444" y="4" width="1" height="14" fill="#555"/><rect x="442" y="15" width="15" height="1" fill="#555"/><path d="M442.5,6.5 L444.5,4 L446.5,6.5 Z" fill="#555"/><path d="M454.5,13.5 L457,15.5 L454.5,17.5 Z" fill="#555"/><path d="M449.5,6.5 L453,9.5 L449.5,12.5 Z" fill="#aee8ae" stroke="#159a15" stroke-width="1"/><rect x="464" y="0" width="1" height="20" fill="#a0a0a0"/><rect x="465" y="0" width="24" height="20" fill="url(#chk)"/><rect x="464" y="0" width="1" height="20" fill="#a0a0a0"/><rect x="489" y="0" width="1" height="21" fill="#ffffff"/><rect x="465" y="20" width="24" height="1" fill="#ffffff"/><rect x="472" y="4" width="1" height="14" fill="#555"/><rect x="470" y="15" width="15" height="1" fill="#555"/><path d="M470.5,6.5 L472.5,4 L474.5,6.5 Z" fill="#555"/><path d="M482.5,13.5 L485,15.5 L482.5,17.5 Z" fill="#555"/><rect x="478" y="4" width="1" height="10" fill="#1a6aa8"/><path d="M483.5,7 L479.5,9.5 L483.5,12 Z" fill="#d8560e"/><rect x="480" y="9" width="4" height="1" fill="#d8560e"/><rect x="493" y="0" width="1" height="20" fill="#a0a0a0"/><rect x="494" y="0" width="1" height="20" fill="#ffffff"/><path d="M503.5,2.5 H511 L514.5,6 V15.5 H503.5 Z" fill="#fbfbfb" stroke="#7a7a7a" stroke-width="1"/><path d="M505,7 l1,-1 M505,7 v6" stroke="#555" stroke-width="0.8" fill="none"/><path d="M510.5,8.5 h3 v4 h4 v3 h-4 v4 h-3 v-4 h-4 v-3 h4 z" fill="url(#lime)" stroke="#129a12" stroke-width="1"/><path d="M525,9 h6 l-3,3 z" fill="#000"/><circle cx="549" cy="10" r="7.6" fill="#1c64c8"/><circle cx="549" cy="10" r="6.2" fill="#4a9ae8"/><circle cx="549" cy="10" r="5.2" fill="#f6f9ff"/><path d="M548.5,5.5 V10.5 H551.5" stroke="#333" stroke-width="1.1" fill="none"/><path d="M564,9 h6 l-3,3 z" fill="#000"/><rect x="580.5" y="3.5" width="15" height="13" fill="#ffffff" stroke="#3a78c8" stroke-width="1"/><rect x="581" y="4" width="14" height="2" fill="#6aa6ee"/><rect x="581" y="10" width="14" height="1" fill="#9ab8e0"/><path d="M582,9 l2.5,-1 l2,1 l2.5,-2 l3,1" stroke="#a02818" fill="none" stroke-width="1"/><path d="M582,14.5 l2.5,-1 l2,1 l2.5,-2 l3,2" stroke="#22a022" fill="none" stroke-width="1"/><path d="M603,9 h6 l-3,3 z" fill="#000"/><rect x="614" y="0" width="1" height="20" fill="#a0a0a0"/><rect x="615" y="0" width="1" height="20" fill="#ffffff"/><rect x="618" y="1" width="3" height="1" fill="#b4b4b4"/><rect x="618" y="3" width="3" height="1" fill="#b4b4b4"/><rect x="618" y="5" width="3" height="1" fill="#b4b4b4"/><rect x="618" y="7" width="3" height="1" fill="#b4b4b4"/><rect x="618" y="9" width="3" height="1" fill="#b4b4b4"/><rect x="618" y="11" width="3" height="1" fill="#b4b4b4"/><rect x="618" y="13" width="3" height="1" fill="#b4b4b4"/><rect x="618" y="15" width="3" height="1" fill="#b4b4b4"/><rect x="618" y="17" width="3" height="1" fill="#b4b4b4"/><rect x="624" y="0" width="1" height="20" fill="#a0a0a0"/><rect x="625" y="0" width="24" height="20" fill="url(#chk)"/><rect x="624" y="0" width="1" height="20" fill="#a0a0a0"/><rect x="649" y="0" width="1" height="21" fill="#ffffff"/><rect x="625" y="20" width="24" height="1" fill="#ffffff"/><path d="M632,3 L632,14 L634.6,11.6 L637,17 L638.8,16.2 L636.4,10.8 L640,10.6 Z" fill="#505050"/><rect x="664" y="3" width="1" height="6.5" fill="#555"/><rect x="664" y="11.5" width="1" height="6.5" fill="#555"/><rect x="657" y="10" width="6" height="1" fill="#555"/><rect x="666" y="10" width="6" height="1" fill="#555"/><rect x="681" y="0" width="1" height="20" fill="#a0a0a0"/><rect x="682" y="0" width="1" height="20" fill="#ffffff"/><rect x="698" y="4" width="1" height="13" fill="#555"/><rect x="720" y="10" width="13" height="1" fill="#555"/><path d="M748.5,16.5 L761.5,4.5" stroke="#555" stroke-width="1.1"/><path d="M775,13.5 L787.5,2.5 M776.5,16.5 L788.5,6 M778,6 v5 M781,3.5 v5 M784,1.5 v5" stroke="#555" stroke-width="1" fill="none"/><text x="785.5" y="18.5" font-size="6.5" fill="#444" font-weight="bold">E</text><rect x="804" y="3" width="1" height="1" fill="#555"/><rect x="806" y="3" width="1" height="1" fill="#555"/><rect x="808" y="3" width="1" height="1" fill="#555"/><rect x="810" y="3" width="1" height="1" fill="#555"/><rect x="812" y="3" width="1" height="1" fill="#555"/><rect x="814" y="3" width="1" height="1" fill="#555"/><rect x="816" y="3" width="1" height="1" fill="#555"/><rect x="804" y="6" width="1" height="1" fill="#555"/><rect x="806" y="6" width="1" height="1" fill="#555"/><rect x="808" y="6" width="1" height="1" fill="#555"/><rect x="810" y="6" width="1" height="1" fill="#555"/><rect x="812" y="6" width="1" height="1" fill="#555"/><rect x="814" y="6" width="1" height="1" fill="#555"/><rect x="816" y="6" width="1" height="1" fill="#555"/><rect x="804" y="10" width="1" height="1" fill="#555"/><rect x="806" y="10" width="1" height="1" fill="#555"/><rect x="808" y="10" width="1" height="1" fill="#555"/><rect x="810" y="10" width="1" height="1" fill="#555"/><rect x="812" y="10" width="1" height="1" fill="#555"/><rect x="814" y="10" width="1" height="1" fill="#555"/><rect x="816" y="10" width="1" height="1" fill="#555"/><rect x="804" y="14" width="1" height="1" fill="#555"/><rect x="806" y="14" width="1" height="1" fill="#555"/><rect x="808" y="14" width="1" height="1" fill="#555"/><rect x="810" y="14" width="1" height="1" fill="#555"/><text x="814" y="19" font-size="6.5" fill="#444" font-weight="bold">F</text><text x="834" y="15.3" font-size="11.5" fill="#555" font-weight="bold">A</text><rect x="861" y="4" width="1" height="1" fill="#555"/><rect x="861" y="16" width="1" height="1" fill="#555"/><rect x="863" y="4" width="1" height="1" fill="#555"/><rect x="863" y="16" width="1" height="1" fill="#555"/><rect x="865" y="4" width="1" height="1" fill="#555"/><rect x="865" y="16" width="1" height="1" fill="#555"/><rect x="867" y="4" width="1" height="1" fill="#555"/><rect x="867" y="16" width="1" height="1" fill="#555"/><rect x="869" y="4" width="1" height="1" fill="#555"/><rect x="869" y="16" width="1" height="1" fill="#555"/><rect x="871" y="4" width="1" height="1" fill="#555"/><rect x="871" y="16" width="1" height="1" fill="#555"/><rect x="873" y="4" width="1" height="1" fill="#555"/><rect x="873" y="16" width="1" height="1" fill="#555"/><rect x="861" y="4" width="1" height="1" fill="#555"/><rect x="873" y="4" width="1" height="1" fill="#555"/><rect x="861" y="6" width="1" height="1" fill="#555"/><rect x="873" y="6" width="1" height="1" fill="#555"/><rect x="861" y="8" width="1" height="1" fill="#555"/><rect x="873" y="8" width="1" height="1" fill="#555"/><rect x="861" y="10" width="1" height="1" fill="#555"/><rect x="873" y="10" width="1" height="1" fill="#555"/><rect x="861" y="12" width="1" height="1" fill="#555"/><rect x="873" y="12" width="1" height="1" fill="#555"/><rect x="861" y="14" width="1" height="1" fill="#555"/><rect x="873" y="14" width="1" height="1" fill="#555"/><rect x="861" y="16" width="1" height="1" fill="#555"/><rect x="873" y="16" width="1" height="1" fill="#555"/><text x="863" y="14.5" font-size="11" fill="#555" font-weight="bold">T</text><path d="M888,7 L891,4 L894,7 L891,9.5 Z M896,13.5 L899,10.5 L902,13.5 L899,16.5 Z" fill="#555"/><path d="M890,10.5 L892,12.5 L896.5,8.5" stroke="#555" stroke-width="1.2" fill="none"/><path d="M908,9 h6 l-3,3 z" fill="#000"/><rect x="920" y="0" width="1" height="20" fill="#a0a0a0"/><rect x="921" y="0" width="1" height="20" fill="#ffffff"/><rect x="924" y="1" width="3" height="1" fill="#b4b4b4"/><rect x="924" y="3" width="3" height="1" fill="#b4b4b4"/><rect x="924" y="5" width="3" height="1" fill="#b4b4b4"/><rect x="924" y="7" width="3" height="1" fill="#b4b4b4"/><rect x="924" y="9" width="3" height="1" fill="#b4b4b4"/><rect x="924" y="11" width="3" height="1" fill="#b4b4b4"/><rect x="924" y="13" width="3" height="1" fill="#b4b4b4"/><rect x="924" y="15" width="3" height="1" fill="#b4b4b4"/><rect x="924" y="17" width="3" height="1" fill="#b4b4b4"/><rect x="1070" y="0" width="1" height="20" fill="#a0a0a0"/><rect x="1071" y="0" width="24" height="20" fill="url(#chk)"/><rect x="1070" y="0" width="1" height="20" fill="#a0a0a0"/><rect x="1095" y="0" width="1" height="21" fill="#ffffff"/><rect x="1071" y="20" width="24" height="1" fill="#ffffff"/><rect x="1181" y="0" width="1" height="20" fill="#a0a0a0"/><rect x="1182" y="0" width="1" height="20" fill="#ffffff"/><text x="935.5" y="14.2" font-size="9.8" fill="#202020" textLength="12.5" lengthAdjust="spacingAndGlyphs">M1</text><text x="963.5" y="14.2" font-size="9.8" fill="#202020" textLength="12.5" lengthAdjust="spacingAndGlyphs">M5</text><text x="990" y="14.2" font-size="9.8" fill="#202020" textLength="17" lengthAdjust="spacingAndGlyphs">M15</text><text x="1017.5" y="14.2" font-size="9.8" fill="#202020" textLength="17.5" lengthAdjust="spacingAndGlyphs">M30</text><text x="1048.5" y="14.2" font-size="9.8" fill="#202020" textLength="11.8" lengthAdjust="spacingAndGlyphs">H1</text><text x="1075.5" y="14.2" font-size="9.8" fill="#202020" textLength="12.2" lengthAdjust="spacingAndGlyphs">H4</text><text x="1104.5" y="14.2" font-size="9.8" fill="#202020" textLength="11.5" lengthAdjust="spacingAndGlyphs">D1</text><text x="1132" y="14.2" font-size="9.8" fill="#202020" textLength="14" lengthAdjust="spacingAndGlyphs">W1</text><text x="1158.5" y="14.2" font-size="9.8" fill="#202020" textLength="14.5" lengthAdjust="spacingAndGlyphs">MN</text><circle cx="1651.5" cy="7.5" r="4.1" fill="#f4f4ff" stroke="#2f62d0" stroke-width="1.5"/><path d="M1648.6,10.4 L1644.6,14.4" stroke="#2f62d0" stroke-width="2.6" stroke-linecap="round"/><ellipse cx="1673" cy="12" rx="5" ry="4.2" fill="#e6e6ee" stroke="#a0a0a0" stroke-width="1"/><path d="M1670,15 L1670.5,18.5 L1673,16" fill="#8a8a8a"/><circle cx="1682.5" cy="7.2" r="8.3" fill="url(#badge)"/><path d="M1680,5.2 L1682.6,3.4 V10.6 M1680.3,10.9 H1685" stroke="#fff" stroke-width="1.5" fill="none"/></g></svg>
</body></html>
